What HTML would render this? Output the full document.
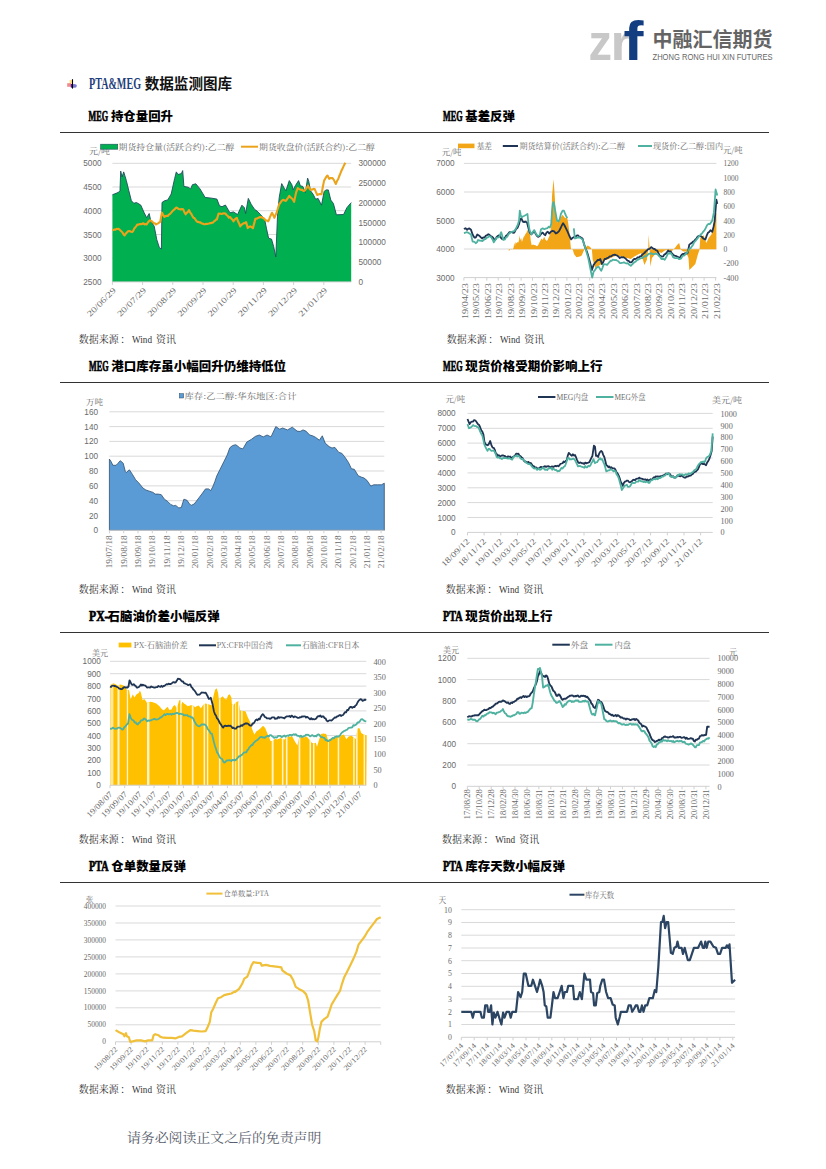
<!DOCTYPE html>
<html><head><meta charset="utf-8"><title>PTA&amp;MEG 数据监测图库</title>
<style>
html,body{margin:0;padding:0;background:#fff;}
body{width:826px;height:1169px;position:relative;overflow:hidden;}
svg{position:absolute;left:0;top:0;}
</style></head><body>
<svg width="826" height="1169" viewBox="0 0 826 1169">
<text x="588.5" y="60" font-size="52" fill="#c8c8c8" font-family="'Liberation Sans','Noto Sans CJK SC',sans-serif" font-weight="bold" textLength="23.5" lengthAdjust="spacingAndGlyphs">z</text>
<text x="610.5" y="60" font-size="52" fill="#c8c8c8" font-family="'Liberation Sans','Noto Sans CJK SC',sans-serif" font-weight="bold" textLength="21" lengthAdjust="spacingAndGlyphs">r</text>
<text x="623.5" y="60" font-size="55" fill="#123d80" font-family="'Liberation Sans','Noto Sans CJK SC',sans-serif" font-weight="bold" textLength="20" lengthAdjust="spacingAndGlyphs">f</text>
<text x="652.5" y="47.0" font-size="20.00" fill="#646464" font-family="'Noto Sans CJK SC',sans-serif" text-anchor="start" font-weight="bold" textLength="120.0" lengthAdjust="spacingAndGlyphs">中融汇信期货</text>
<text x="652.5" y="59.6" font-size="8.60" fill="#666666" font-family="'Liberation Sans','Noto Sans CJK SC',sans-serif" text-anchor="start" font-weight="normal" textLength="120.0" lengthAdjust="spacingAndGlyphs">ZHONG RONG HUI XIN FUTURES</text>
<rect x="69.6" y="80" width="2.4" height="3.6" fill="#ffd860" opacity="0.8"/>
<rect x="67.2" y="83.2" width="3.8" height="3.6" fill="#f08a8a"/>
<ellipse cx="74" cy="85.9" rx="2.8" ry="1.9" fill="#7a78d8"/>
<rect x="70.8" y="84" width="1.8" height="3.6" fill="#4a1a90"/>
<line x1="72.5" y1="79.2" x2="72.5" y2="88.6" stroke="#000" stroke-width="1.1"/>
<text x="89.0" y="88.6" font-size="15.80" fill="#1f3f7c" font-family="'Liberation Serif','Noto Serif CJK SC',serif" text-anchor="start" font-weight="bold" textLength="52.0" lengthAdjust="spacingAndGlyphs">PTA&amp;MEG</text>
<text x="144.7" y="88.8" font-size="14.50" fill="#111" font-family="'Noto Sans CJK SC',sans-serif" text-anchor="start" font-weight="bold" textLength="87.5" lengthAdjust="spacingAndGlyphs">数据监测图库</text>
<text x="88.6" y="120.9" font-size="14.50" fill="#000" font-family="'Liberation Serif','Noto Serif CJK SC',serif" text-anchor="start" font-weight="bold" textLength="19.5" lengthAdjust="spacingAndGlyphs" stroke="#000" stroke-width="0.7">MEG</text>
<text x="110.9" y="121.3" font-size="12.50" fill="#000" font-family="'Noto Sans CJK SC',sans-serif" text-anchor="start" font-weight="900" textLength="62.1" lengthAdjust="spacingAndGlyphs">持仓量回升</text>
<text x="443.0" y="120.9" font-size="14.50" fill="#000" font-family="'Liberation Serif','Noto Serif CJK SC',serif" text-anchor="start" font-weight="bold" textLength="19.5" lengthAdjust="spacingAndGlyphs" stroke="#000" stroke-width="0.7">MEG</text>
<text x="465.3" y="121.3" font-size="12.50" fill="#000" font-family="'Noto Sans CJK SC',sans-serif" text-anchor="start" font-weight="900" textLength="49.6" lengthAdjust="spacingAndGlyphs">基差反弹</text>
<text x="89.0" y="370.9" font-size="14.50" fill="#000" font-family="'Liberation Serif','Noto Serif CJK SC',serif" text-anchor="start" font-weight="bold" textLength="19.5" lengthAdjust="spacingAndGlyphs" stroke="#000" stroke-width="0.7">MEG</text>
<text x="111.3" y="371.3" font-size="12.50" fill="#000" font-family="'Noto Sans CJK SC',sans-serif" text-anchor="start" font-weight="900" textLength="174.8" lengthAdjust="spacingAndGlyphs">港口库存虽小幅回升仍维持低位</text>
<text x="443.0" y="370.9" font-size="14.50" fill="#000" font-family="'Liberation Serif','Noto Serif CJK SC',serif" text-anchor="start" font-weight="bold" textLength="19.5" lengthAdjust="spacingAndGlyphs" stroke="#000" stroke-width="0.7">MEG</text>
<text x="465.3" y="371.3" font-size="12.50" fill="#000" font-family="'Noto Sans CJK SC',sans-serif" text-anchor="start" font-weight="900" textLength="137.2" lengthAdjust="spacingAndGlyphs">现货价格受期价影响上行</text>
<text x="89.0" y="620.9" font-size="14.50" fill="#000" font-family="'Liberation Serif','Noto Serif CJK SC',serif" text-anchor="start" font-weight="bold" textLength="19.5" lengthAdjust="spacingAndGlyphs" stroke="#000" stroke-width="0.7">PX-</text>
<text x="107.6" y="621.3" font-size="12.50" fill="#000" font-family="'Noto Sans CJK SC',sans-serif" text-anchor="start" font-weight="900" textLength="112.2" lengthAdjust="spacingAndGlyphs">石脑油价差小幅反弹</text>
<text x="443.0" y="620.9" font-size="14.50" fill="#000" font-family="'Liberation Serif','Noto Serif CJK SC',serif" text-anchor="start" font-weight="bold" textLength="19.5" lengthAdjust="spacingAndGlyphs" stroke="#000" stroke-width="0.7">PTA</text>
<text x="465.3" y="621.3" font-size="12.50" fill="#000" font-family="'Noto Sans CJK SC',sans-serif" text-anchor="start" font-weight="900" textLength="87.1" lengthAdjust="spacingAndGlyphs">现货价出现上行</text>
<text x="89.0" y="870.9" font-size="14.50" fill="#000" font-family="'Liberation Serif','Noto Serif CJK SC',serif" text-anchor="start" font-weight="bold" textLength="19.5" lengthAdjust="spacingAndGlyphs" stroke="#000" stroke-width="0.7">PTA</text>
<text x="111.3" y="871.3" font-size="12.50" fill="#000" font-family="'Noto Sans CJK SC',sans-serif" text-anchor="start" font-weight="900" textLength="74.6" lengthAdjust="spacingAndGlyphs">仓单数量反弹</text>
<text x="443.0" y="870.9" font-size="14.50" fill="#000" font-family="'Liberation Serif','Noto Serif CJK SC',serif" text-anchor="start" font-weight="bold" textLength="19.5" lengthAdjust="spacingAndGlyphs" stroke="#000" stroke-width="0.7">PTA</text>
<text x="465.3" y="871.3" font-size="12.50" fill="#000" font-family="'Noto Sans CJK SC',sans-serif" text-anchor="start" font-weight="900" textLength="99.7" lengthAdjust="spacingAndGlyphs">库存天数小幅反弹</text>
<line x1="60" y1="132.5" x2="769" y2="132.5" stroke="#333" stroke-width="1.2"/>
<line x1="60" y1="382.5" x2="769" y2="382.5" stroke="#333" stroke-width="1.2"/>
<line x1="60" y1="632.5" x2="769" y2="632.5" stroke="#333" stroke-width="1.2"/>
<line x1="60" y1="882.5" x2="769" y2="882.5" stroke="#333" stroke-width="1.2"/>
<text x="78.7" y="342.8" font-size="10.00" fill="#333" font-family="'Noto Serif CJK SC','Liberation Serif',serif" text-anchor="start" font-weight="normal" textLength="40.0" lengthAdjust="spacingAndGlyphs">数据来源</text>
<text x="120.2" y="342.8" font-size="10.00" fill="#333" font-family="'Noto Serif CJK SC','Liberation Serif',serif" text-anchor="start" font-weight="normal">：</text>
<text x="132.0" y="342.8" font-size="10.50" fill="#333" font-family="'Liberation Serif','Noto Serif CJK SC',serif" text-anchor="start" font-weight="normal" textLength="20.0" lengthAdjust="spacingAndGlyphs">Wind</text>
<text x="156.1" y="342.8" font-size="10.00" fill="#333" font-family="'Noto Serif CJK SC','Liberation Serif',serif" text-anchor="start" font-weight="normal" textLength="20.0" lengthAdjust="spacingAndGlyphs">资讯</text>
<text x="446.8" y="342.8" font-size="10.00" fill="#333" font-family="'Noto Serif CJK SC','Liberation Serif',serif" text-anchor="start" font-weight="normal" textLength="40.0" lengthAdjust="spacingAndGlyphs">数据来源</text>
<text x="488.3" y="342.8" font-size="10.00" fill="#333" font-family="'Noto Serif CJK SC','Liberation Serif',serif" text-anchor="start" font-weight="normal">：</text>
<text x="500.1" y="342.8" font-size="10.50" fill="#333" font-family="'Liberation Serif','Noto Serif CJK SC',serif" text-anchor="start" font-weight="normal" textLength="20.0" lengthAdjust="spacingAndGlyphs">Wind</text>
<text x="524.2" y="342.8" font-size="10.00" fill="#333" font-family="'Noto Serif CJK SC','Liberation Serif',serif" text-anchor="start" font-weight="normal" textLength="20.0" lengthAdjust="spacingAndGlyphs">资讯</text>
<text x="78.7" y="592.6" font-size="10.00" fill="#333" font-family="'Noto Serif CJK SC','Liberation Serif',serif" text-anchor="start" font-weight="normal" textLength="40.0" lengthAdjust="spacingAndGlyphs">数据来源</text>
<text x="120.2" y="592.6" font-size="10.00" fill="#333" font-family="'Noto Serif CJK SC','Liberation Serif',serif" text-anchor="start" font-weight="normal">：</text>
<text x="132.0" y="592.6" font-size="10.50" fill="#333" font-family="'Liberation Serif','Noto Serif CJK SC',serif" text-anchor="start" font-weight="normal" textLength="20.0" lengthAdjust="spacingAndGlyphs">Wind</text>
<text x="156.1" y="592.6" font-size="10.00" fill="#333" font-family="'Noto Serif CJK SC','Liberation Serif',serif" text-anchor="start" font-weight="normal" textLength="20.0" lengthAdjust="spacingAndGlyphs">资讯</text>
<text x="445.8" y="592.6" font-size="10.00" fill="#333" font-family="'Noto Serif CJK SC','Liberation Serif',serif" text-anchor="start" font-weight="normal" textLength="40.0" lengthAdjust="spacingAndGlyphs">数据来源</text>
<text x="487.3" y="592.6" font-size="10.00" fill="#333" font-family="'Noto Serif CJK SC','Liberation Serif',serif" text-anchor="start" font-weight="normal">：</text>
<text x="499.1" y="592.6" font-size="10.50" fill="#333" font-family="'Liberation Serif','Noto Serif CJK SC',serif" text-anchor="start" font-weight="normal" textLength="20.0" lengthAdjust="spacingAndGlyphs">Wind</text>
<text x="523.2" y="592.6" font-size="10.00" fill="#333" font-family="'Noto Serif CJK SC','Liberation Serif',serif" text-anchor="start" font-weight="normal" textLength="20.0" lengthAdjust="spacingAndGlyphs">资讯</text>
<text x="78.7" y="842.6" font-size="10.00" fill="#333" font-family="'Noto Serif CJK SC','Liberation Serif',serif" text-anchor="start" font-weight="normal" textLength="40.0" lengthAdjust="spacingAndGlyphs">数据来源</text>
<text x="120.2" y="842.6" font-size="10.00" fill="#333" font-family="'Noto Serif CJK SC','Liberation Serif',serif" text-anchor="start" font-weight="normal">：</text>
<text x="132.0" y="842.6" font-size="10.50" fill="#333" font-family="'Liberation Serif','Noto Serif CJK SC',serif" text-anchor="start" font-weight="normal" textLength="20.0" lengthAdjust="spacingAndGlyphs">Wind</text>
<text x="156.1" y="842.6" font-size="10.00" fill="#333" font-family="'Noto Serif CJK SC','Liberation Serif',serif" text-anchor="start" font-weight="normal" textLength="20.0" lengthAdjust="spacingAndGlyphs">资讯</text>
<text x="441.9" y="842.6" font-size="10.00" fill="#333" font-family="'Noto Serif CJK SC','Liberation Serif',serif" text-anchor="start" font-weight="normal" textLength="40.0" lengthAdjust="spacingAndGlyphs">数据来源</text>
<text x="483.4" y="842.6" font-size="10.00" fill="#333" font-family="'Noto Serif CJK SC','Liberation Serif',serif" text-anchor="start" font-weight="normal">：</text>
<text x="495.2" y="842.6" font-size="10.50" fill="#333" font-family="'Liberation Serif','Noto Serif CJK SC',serif" text-anchor="start" font-weight="normal" textLength="20.0" lengthAdjust="spacingAndGlyphs">Wind</text>
<text x="519.3" y="842.6" font-size="10.00" fill="#333" font-family="'Noto Serif CJK SC','Liberation Serif',serif" text-anchor="start" font-weight="normal" textLength="20.0" lengthAdjust="spacingAndGlyphs">资讯</text>
<text x="78.7" y="1092.6" font-size="10.00" fill="#333" font-family="'Noto Serif CJK SC','Liberation Serif',serif" text-anchor="start" font-weight="normal" textLength="40.0" lengthAdjust="spacingAndGlyphs">数据来源</text>
<text x="120.2" y="1092.6" font-size="10.00" fill="#333" font-family="'Noto Serif CJK SC','Liberation Serif',serif" text-anchor="start" font-weight="normal">：</text>
<text x="132.0" y="1092.6" font-size="10.50" fill="#333" font-family="'Liberation Serif','Noto Serif CJK SC',serif" text-anchor="start" font-weight="normal" textLength="20.0" lengthAdjust="spacingAndGlyphs">Wind</text>
<text x="156.1" y="1092.6" font-size="10.00" fill="#333" font-family="'Noto Serif CJK SC','Liberation Serif',serif" text-anchor="start" font-weight="normal" textLength="20.0" lengthAdjust="spacingAndGlyphs">资讯</text>
<text x="445.8" y="1092.6" font-size="10.00" fill="#333" font-family="'Noto Serif CJK SC','Liberation Serif',serif" text-anchor="start" font-weight="normal" textLength="40.0" lengthAdjust="spacingAndGlyphs">数据来源</text>
<text x="487.3" y="1092.6" font-size="10.00" fill="#333" font-family="'Noto Serif CJK SC','Liberation Serif',serif" text-anchor="start" font-weight="normal">：</text>
<text x="499.1" y="1092.6" font-size="10.50" fill="#333" font-family="'Liberation Serif','Noto Serif CJK SC',serif" text-anchor="start" font-weight="normal" textLength="20.0" lengthAdjust="spacingAndGlyphs">Wind</text>
<text x="523.2" y="1092.6" font-size="10.00" fill="#333" font-family="'Noto Serif CJK SC','Liberation Serif',serif" text-anchor="start" font-weight="normal" textLength="20.0" lengthAdjust="spacingAndGlyphs">资讯</text>
<text x="126.9" y="1141.8" font-size="12.80" fill="#575d6b" font-family="'Noto Serif CJK SC','Liberation Serif',serif" text-anchor="start" font-weight="normal" textLength="194.5" lengthAdjust="spacingAndGlyphs">请务必阅读正文之后的免责声明</text>
<line x1="112.4" y1="163.3" x2="351.2" y2="163.3" stroke="#d9d9d9" stroke-width="1"/>
<line x1="112.4" y1="187.0" x2="351.2" y2="187.0" stroke="#d9d9d9" stroke-width="1"/>
<line x1="112.4" y1="210.7" x2="351.2" y2="210.7" stroke="#d9d9d9" stroke-width="1"/>
<line x1="112.4" y1="234.5" x2="351.2" y2="234.5" stroke="#d9d9d9" stroke-width="1"/>
<line x1="112.4" y1="258.2" x2="351.2" y2="258.2" stroke="#d9d9d9" stroke-width="1"/>
<polygon points="112.4,281.9 112.4,194.8 118.6,192.3 120.0,190.6 120.7,171.1 122.0,177.0 123.7,171.9 126.3,180.4 128.8,190.6 131.4,200.8 133.9,203.3 136.4,202.5 140.7,205.0 144.1,212.6 146.6,217.7 149.2,213.5 150.8,221.1 154.2,226.2 156.8,239.7 159.3,247.4 161.4,249.1 162.0,202.5 164.4,200.8 167.8,199.9 171.2,194.0 174.6,178.7 176.3,171.9 178.0,174.5 181.4,173.6 182.7,170.6 183.9,186.4 188.1,187.2 190.7,188.9 192.4,184.7 195.8,183.8 200.0,188.9 205.1,197.4 211.9,198.2 216.9,199.1 219.5,205.8 222.0,206.7 225.4,205.0 228.8,210.9 230.0,212.8 233.4,211.9 237.6,214.5 241.9,205.2 244.4,207.7 245.6,213.6 248.3,198.4 251.2,204.3 254.6,209.4 257.1,211.1 260.5,214.5 264.7,219.6 266.4,228.1 268.6,238.2 271.5,239.1 273.7,246.7 275.8,256.9 277.5,216.2 279.2,197.5 281.7,183.6 284.2,188.2 285.9,190.8 289.3,180.6 291.9,184.8 293.1,189.9 295.3,185.7 298.6,180.6 300.3,185.7 302.9,186.5 305.4,192.5 307.6,178.1 308.8,181.4 310.5,190.8 313.1,194.2 315.6,199.2 318.1,198.4 321.5,205.2 324.1,191.6 325.8,189.9 328.3,189.9 330.8,200.1 333.4,203.5 336.4,214.8 343.6,214.5 346.9,207.7 351.2,202.6 351.2,281.9" fill="#00b050"/>
<polyline points="112.4,194.8 118.6,192.3 120.0,190.6 120.7,171.1 122.0,177.0 123.7,171.9 126.3,180.4 128.8,190.6 131.4,200.8 133.9,203.3 136.4,202.5 140.7,205.0 144.1,212.6 146.6,217.7 149.2,213.5 150.8,221.1 154.2,226.2 156.8,239.7 159.3,247.4 161.4,249.1 162.0,202.5 164.4,200.8 167.8,199.9 171.2,194.0 174.6,178.7 176.3,171.9 178.0,174.5 181.4,173.6 182.7,170.6 183.9,186.4 188.1,187.2 190.7,188.9 192.4,184.7 195.8,183.8 200.0,188.9 205.1,197.4 211.9,198.2 216.9,199.1 219.5,205.8 222.0,206.7 225.4,205.0 228.8,210.9 230.0,212.8 233.4,211.9 237.6,214.5 241.9,205.2 244.4,207.7 245.6,213.6 248.3,198.4 251.2,204.3 254.6,209.4 257.1,211.1 260.5,214.5 264.7,219.6 266.4,228.1 268.6,238.2 271.5,239.1 273.7,246.7 275.8,256.9 277.5,216.2 279.2,197.5 281.7,183.6 284.2,188.2 285.9,190.8 289.3,180.6 291.9,184.8 293.1,189.9 295.3,185.7 298.6,180.6 300.3,185.7 302.9,186.5 305.4,192.5 307.6,178.1 308.8,181.4 310.5,190.8 313.1,194.2 315.6,199.2 318.1,198.4 321.5,205.2 324.1,191.6 325.8,189.9 328.3,189.9 330.8,200.1 333.4,203.5 336.4,214.8 343.6,214.5 346.9,207.7 351.2,202.6" fill="none" stroke="#1e4d5c" stroke-width="0.9" stroke-linejoin="round"/>
<line x1="112.4" y1="281.9" x2="351.2" y2="281.9" stroke="#d0d0d0" stroke-width="1"/>
<line x1="112.4" y1="281.9" x2="112.4" y2="284.9" stroke="#d0d0d0" stroke-width="1"/>
<line x1="142.6" y1="281.9" x2="142.6" y2="284.9" stroke="#d0d0d0" stroke-width="1"/>
<line x1="172.8" y1="281.9" x2="172.8" y2="284.9" stroke="#d0d0d0" stroke-width="1"/>
<line x1="203.0" y1="281.9" x2="203.0" y2="284.9" stroke="#d0d0d0" stroke-width="1"/>
<line x1="233.2" y1="281.9" x2="233.2" y2="284.9" stroke="#d0d0d0" stroke-width="1"/>
<line x1="263.4" y1="281.9" x2="263.4" y2="284.9" stroke="#d0d0d0" stroke-width="1"/>
<line x1="293.6" y1="281.9" x2="293.6" y2="284.9" stroke="#d0d0d0" stroke-width="1"/>
<line x1="323.8" y1="281.9" x2="323.8" y2="284.9" stroke="#d0d0d0" stroke-width="1"/>
<polyline points="112.4,230.4 113.4,230.0 114.5,229.5 115.5,229.7 116.6,228.9 117.6,229.0 118.6,228.7 119.9,229.9 121.2,231.3 122.3,232.2 123.4,234.1 124.6,235.5 125.7,233.6 126.8,232.6 128.0,231.3 129.0,231.1 130.1,231.3 131.1,231.8 132.2,232.1 133.2,230.9 134.2,228.7 135.3,227.3 136.3,226.1 137.3,224.5 138.3,224.8 139.3,224.2 140.3,223.9 141.4,224.3 142.4,223.6 143.4,223.4 144.5,224.4 145.6,224.1 146.6,224.5 147.7,222.7 148.9,221.3 150.0,220.3 151.3,220.9 152.5,221.9 153.7,223.1 154.8,223.3 155.9,224.5 157.0,223.9 158.1,223.4 159.1,222.5 160.2,221.9 161.9,212.6 163.1,214.8 164.4,216.9 165.5,216.1 166.7,215.9 167.8,216.0 168.9,214.6 170.1,213.9 171.2,212.6 172.2,211.5 173.2,210.4 174.2,209.7 175.3,208.5 176.3,207.5 177.4,207.9 178.5,209.0 179.7,209.2 180.8,209.4 181.9,209.0 183.1,209.2 184.3,211.9 185.6,214.3 186.7,212.9 187.9,211.9 189.0,210.1 190.1,212.3 191.2,213.8 192.4,216.0 193.4,217.7 194.4,218.0 195.4,219.5 196.4,221.0 197.5,221.9 198.4,221.9 199.4,222.5 200.3,222.3 201.3,223.2 202.2,223.6 203.2,223.7 204.1,224.3 205.1,224.2 206.1,223.8 207.0,224.0 208.0,223.7 209.0,223.5 209.9,223.1 210.9,223.3 211.9,222.8 212.9,222.6 213.9,221.4 214.9,220.9 215.9,219.6 216.9,219.4 218.6,213.5 219.6,213.7 220.6,213.6 221.5,214.0 222.5,213.8 223.5,213.3 224.5,213.4 225.4,213.5 226.6,215.1 227.7,215.8 228.8,217.7 230.0,217.0 231.1,218.4 232.3,219.5 233.4,221.3 234.5,219.8 235.6,218.6 236.8,217.9 237.9,221.0 239.0,223.2 240.2,226.4 241.4,224.8 242.7,223.8 243.8,223.1 245.0,223.1 246.1,222.1 247.8,228.1 249.1,226.8 250.3,226.4 251.6,227.2 252.9,228.1 254.2,223.4 255.4,218.7 256.5,218.7 257.5,218.2 258.6,217.8 259.7,217.0 260.8,217.1 261.9,217.5 263.1,217.9 264.2,218.6 265.3,220.0 266.4,220.4 268.1,221.3 269.1,219.6 270.1,216.7 271.1,214.6 272.0,212.8 273.2,215.1 274.4,217.9 275.5,215.1 276.6,212.8 277.9,208.5 279.2,204.3 280.3,203.0 281.4,201.3 282.5,200.1 283.7,199.9 284.8,200.6 285.9,200.9 287.1,199.1 288.2,197.6 289.3,195.8 290.5,197.4 291.6,198.3 292.7,199.2 294.1,201.8 295.1,197.1 296.1,192.5 297.8,188.2 298.9,188.9 300.1,189.5 301.2,189.9 302.3,189.8 303.4,190.9 304.6,190.8 305.7,189.3 306.8,187.7 308.0,185.7 309.2,188.1 310.5,189.9 311.6,189.6 312.6,189.4 313.7,188.9 314.7,189.1 316.0,192.2 317.3,195.0 318.3,194.4 319.4,194.1 320.5,194.1 321.5,194.2 322.8,187.0 324.1,180.6 325.2,178.7 326.3,176.8 327.5,175.5 329.2,178.9 330.3,178.1 331.4,178.0 332.5,178.1 333.7,179.6 334.8,181.9 335.9,184.0 337.0,181.0 338.1,179.3 339.1,176.5 340.2,173.8 341.2,171.3 342.2,169.2 343.2,167.1 344.2,164.9 345.3,162.8" fill="none" stroke="#eca31c" stroke-width="2.1" stroke-linejoin="round"/>
<text x="101.5" y="166.3" font-size="8.20" fill="#6a6a6a" font-family="'Liberation Sans','Noto Sans CJK SC',sans-serif" text-anchor="end" font-weight="normal">5000</text>
<text x="101.5" y="190.0" font-size="8.20" fill="#6a6a6a" font-family="'Liberation Sans','Noto Sans CJK SC',sans-serif" text-anchor="end" font-weight="normal">4500</text>
<text x="101.5" y="213.7" font-size="8.20" fill="#6a6a6a" font-family="'Liberation Sans','Noto Sans CJK SC',sans-serif" text-anchor="end" font-weight="normal">4000</text>
<text x="101.5" y="237.5" font-size="8.20" fill="#6a6a6a" font-family="'Liberation Sans','Noto Sans CJK SC',sans-serif" text-anchor="end" font-weight="normal">3500</text>
<text x="101.5" y="261.2" font-size="8.20" fill="#6a6a6a" font-family="'Liberation Sans','Noto Sans CJK SC',sans-serif" text-anchor="end" font-weight="normal">3000</text>
<text x="101.5" y="284.9" font-size="8.20" fill="#6a6a6a" font-family="'Liberation Sans','Noto Sans CJK SC',sans-serif" text-anchor="end" font-weight="normal">2500</text>
<text x="358.5" y="166.3" font-size="8.20" fill="#6a6a6a" font-family="'Liberation Sans','Noto Sans CJK SC',sans-serif" text-anchor="start" font-weight="normal">300000</text>
<text x="358.5" y="186.1" font-size="8.20" fill="#6a6a6a" font-family="'Liberation Sans','Noto Sans CJK SC',sans-serif" text-anchor="start" font-weight="normal">250000</text>
<text x="358.5" y="205.8" font-size="8.20" fill="#6a6a6a" font-family="'Liberation Sans','Noto Sans CJK SC',sans-serif" text-anchor="start" font-weight="normal">200000</text>
<text x="358.5" y="225.6" font-size="8.20" fill="#6a6a6a" font-family="'Liberation Sans','Noto Sans CJK SC',sans-serif" text-anchor="start" font-weight="normal">150000</text>
<text x="358.5" y="245.4" font-size="8.20" fill="#6a6a6a" font-family="'Liberation Sans','Noto Sans CJK SC',sans-serif" text-anchor="start" font-weight="normal">100000</text>
<text x="358.5" y="265.1" font-size="8.20" fill="#6a6a6a" font-family="'Liberation Sans','Noto Sans CJK SC',sans-serif" text-anchor="start" font-weight="normal">50000</text>
<text x="358.5" y="284.9" font-size="8.20" fill="#6a6a6a" font-family="'Liberation Sans','Noto Sans CJK SC',sans-serif" text-anchor="start" font-weight="normal">0</text>
<text x="89.0" y="154.3" font-size="8.20" fill="#6a6a6a" font-family="'Noto Serif CJK SC','Liberation Serif',serif" text-anchor="start" font-weight="normal" textLength="21.0" lengthAdjust="spacingAndGlyphs">元/吨</text>
<rect x="100.7" y="144.2" width="17" height="5" fill="#00b050" stroke="#1e4d5c" stroke-width="0.6"/>
<text x="118.5" y="149.5" font-size="8.20" fill="#6a6a6a" font-family="'Noto Serif CJK SC','Liberation Serif',serif" text-anchor="start" font-weight="normal" textLength="116.0" lengthAdjust="spacingAndGlyphs">期货持仓量(活跃合约):乙二醇</text>
<line x1="241" y1="146.7" x2="258" y2="146.7" stroke="#eca31c" stroke-width="2"/>
<text x="259.0" y="149.5" font-size="8.20" fill="#6a6a6a" font-family="'Noto Serif CJK SC','Liberation Serif',serif" text-anchor="start" font-weight="normal" textLength="116.0" lengthAdjust="spacingAndGlyphs">期货收盘价(活跃合约):乙二醇</text>
<text transform="translate(116.4,290.9) rotate(-45)" font-size="8.20" fill="#6a6a6a" font-family="'Liberation Serif','Noto Serif CJK SC',serif" text-anchor="end" textLength="37.0" lengthAdjust="spacingAndGlyphs">20/06/29</text>
<text transform="translate(146.6,290.9) rotate(-45)" font-size="8.20" fill="#6a6a6a" font-family="'Liberation Serif','Noto Serif CJK SC',serif" text-anchor="end" textLength="37.0" lengthAdjust="spacingAndGlyphs">20/07/29</text>
<text transform="translate(176.8,290.9) rotate(-45)" font-size="8.20" fill="#6a6a6a" font-family="'Liberation Serif','Noto Serif CJK SC',serif" text-anchor="end" textLength="37.0" lengthAdjust="spacingAndGlyphs">20/08/29</text>
<text transform="translate(207.0,290.9) rotate(-45)" font-size="8.20" fill="#6a6a6a" font-family="'Liberation Serif','Noto Serif CJK SC',serif" text-anchor="end" textLength="37.0" lengthAdjust="spacingAndGlyphs">20/09/29</text>
<text transform="translate(237.2,290.9) rotate(-45)" font-size="8.20" fill="#6a6a6a" font-family="'Liberation Serif','Noto Serif CJK SC',serif" text-anchor="end" textLength="37.0" lengthAdjust="spacingAndGlyphs">20/10/29</text>
<text transform="translate(267.4,290.9) rotate(-45)" font-size="8.20" fill="#6a6a6a" font-family="'Liberation Serif','Noto Serif CJK SC',serif" text-anchor="end" textLength="37.0" lengthAdjust="spacingAndGlyphs">20/11/29</text>
<text transform="translate(297.6,290.9) rotate(-45)" font-size="8.20" fill="#6a6a6a" font-family="'Liberation Serif','Noto Serif CJK SC',serif" text-anchor="end" textLength="37.0" lengthAdjust="spacingAndGlyphs">20/12/29</text>
<text transform="translate(327.8,290.9) rotate(-45)" font-size="8.20" fill="#6a6a6a" font-family="'Liberation Serif','Noto Serif CJK SC',serif" text-anchor="end" textLength="37.0" lengthAdjust="spacingAndGlyphs">21/01/29</text>
<line x1="463.9" y1="163.4" x2="716.4" y2="163.4" stroke="#d9d9d9" stroke-width="1"/>
<line x1="463.9" y1="192.0" x2="716.4" y2="192.0" stroke="#d9d9d9" stroke-width="1"/>
<line x1="463.9" y1="220.4" x2="716.4" y2="220.4" stroke="#d9d9d9" stroke-width="1"/>
<line x1="463.9" y1="249.0" x2="716.4" y2="249.0" stroke="#d9d9d9" stroke-width="1"/>
<polygon points="508.8,249.3 508.8,251.3 510.1,249.6 511.4,248.7 512.6,249.6 513.5,247.9 514.3,242.8 515.0,246.2 515.6,241.9 516.4,243.6 517.3,241.9 518.1,242.8 519.0,240.3 519.6,235.2 520.3,240.3 521.1,237.7 521.9,241.9 522.8,239.4 523.6,236.9 524.5,236.0 525.3,234.3 526.6,232.6 527.5,230.1 528.3,230.9 529.2,234.3 530.0,233.5 530.8,241.1 531.7,245.3 533.0,244.5 534.2,244.9 535.5,245.3 536.8,246.2 538.1,245.3 538.9,243.6 540.2,241.1 541.0,239.4 541.9,238.6 542.7,240.3 543.6,237.7 544.4,236.9 545.3,239.4 546.1,240.3 546.9,241.1 547.8,239.4 548.6,237.7 549.5,236.0 550.3,232.6 551.2,225.8 552.0,196.2 552.9,186.0 553.5,179.2 554.2,187.7 555.0,200.4 555.8,215.7 556.7,220.8 557.5,222.5 558.8,221.2 560.1,219.1 561.4,216.5 562.6,214.8 563.9,216.5 565.2,218.2 566.0,217.4 567.3,218.2 568.1,222.5 569.0,229.2 569.8,236.0 570.7,246.2 571.1,249.6 572.5,248.7 574.1,254.2 576.5,257.3 579.6,256.6 580.0,256.4 581.7,255.6 583.4,251.4 585.1,248.0 587.6,245.4 590.2,247.1 591.9,249.7 592.7,259.8 595.3,268.3 596.9,266.6 600.3,264.9 603.7,259.8 607.1,259.8 610.5,258.1 613.9,256.4 617.3,255.6 620.7,256.4 624.1,258.1 627.5,258.1 630.8,259.0 634.2,256.4 637.6,254.7 641.0,253.1 644.4,264.9 646.9,259.8 648.3,248.0 648.6,234.4 649.5,246.3 650.3,266.6 652.0,258.1 654.6,254.7 658.0,251.4 661.4,253.1 664.7,250.5 668.1,249.7 671.5,251.4 674.9,248.0 677.5,244.6 679.2,242.9 680.8,249.7 683.4,251.4 685.9,251.4 688.5,258.1 689.3,270.0 691.9,267.5 695.3,264.1 697.8,254.7 699.5,249.7 700.3,237.8 703.7,235.3 706.3,242.9 708.8,237.8 711.4,234.4 713.9,225.9 715.6,214.1 716.4,213.2 716.4,249.3" fill="#f2a516"/>
<line x1="463.9" y1="277.6" x2="716.4" y2="277.6" stroke="#d0d0d0" stroke-width="1"/>
<line x1="463.9" y1="277.6" x2="463.9" y2="280.6" stroke="#d0d0d0" stroke-width="1"/>
<line x1="475.3" y1="277.6" x2="475.3" y2="280.6" stroke="#d0d0d0" stroke-width="1"/>
<line x1="486.8" y1="277.6" x2="486.8" y2="280.6" stroke="#d0d0d0" stroke-width="1"/>
<line x1="498.2" y1="277.6" x2="498.2" y2="280.6" stroke="#d0d0d0" stroke-width="1"/>
<line x1="509.7" y1="277.6" x2="509.7" y2="280.6" stroke="#d0d0d0" stroke-width="1"/>
<line x1="521.1" y1="277.6" x2="521.1" y2="280.6" stroke="#d0d0d0" stroke-width="1"/>
<line x1="532.5" y1="277.6" x2="532.5" y2="280.6" stroke="#d0d0d0" stroke-width="1"/>
<line x1="544.0" y1="277.6" x2="544.0" y2="280.6" stroke="#d0d0d0" stroke-width="1"/>
<line x1="555.4" y1="277.6" x2="555.4" y2="280.6" stroke="#d0d0d0" stroke-width="1"/>
<line x1="566.9" y1="277.6" x2="566.9" y2="280.6" stroke="#d0d0d0" stroke-width="1"/>
<line x1="578.3" y1="277.6" x2="578.3" y2="280.6" stroke="#d0d0d0" stroke-width="1"/>
<line x1="589.7" y1="277.6" x2="589.7" y2="280.6" stroke="#d0d0d0" stroke-width="1"/>
<line x1="601.2" y1="277.6" x2="601.2" y2="280.6" stroke="#d0d0d0" stroke-width="1"/>
<line x1="612.6" y1="277.6" x2="612.6" y2="280.6" stroke="#d0d0d0" stroke-width="1"/>
<line x1="624.1" y1="277.6" x2="624.1" y2="280.6" stroke="#d0d0d0" stroke-width="1"/>
<line x1="635.5" y1="277.6" x2="635.5" y2="280.6" stroke="#d0d0d0" stroke-width="1"/>
<line x1="646.9" y1="277.6" x2="646.9" y2="280.6" stroke="#d0d0d0" stroke-width="1"/>
<line x1="658.4" y1="277.6" x2="658.4" y2="280.6" stroke="#d0d0d0" stroke-width="1"/>
<line x1="669.8" y1="277.6" x2="669.8" y2="280.6" stroke="#d0d0d0" stroke-width="1"/>
<line x1="681.3" y1="277.6" x2="681.3" y2="280.6" stroke="#d0d0d0" stroke-width="1"/>
<line x1="692.7" y1="277.6" x2="692.7" y2="280.6" stroke="#d0d0d0" stroke-width="1"/>
<line x1="704.1" y1="277.6" x2="704.1" y2="280.6" stroke="#d0d0d0" stroke-width="1"/>
<line x1="715.6" y1="277.6" x2="715.6" y2="280.6" stroke="#d0d0d0" stroke-width="1"/>
<polyline points="463.9,229.0 465.5,228.2 467.1,229.8 468.3,228.6 469.4,228.5 471.0,229.8 472.2,233.4 473.4,236.1 474.6,237.6 475.7,237.7 477.3,234.5 478.5,235.3 479.7,236.1 480.9,237.3 482.0,238.5 483.2,237.5 484.4,237.7 485.6,235.9 486.8,235.3 488.3,234.2 489.5,234.9 490.7,236.1 491.9,236.6 493.1,237.7 494.6,240.0 495.7,239.2 496.7,236.9 497.8,236.1 499.0,235.4 500.1,236.1 501.3,238.3 502.5,239.2 503.7,238.5 505.0,237.7 506.1,235.8 507.3,234.9 508.4,233.5 509.5,232.2 510.6,232.4 511.8,231.8 513.1,232.9 514.3,232.6 516.0,229.2 517.7,227.5 519.0,224.2 520.3,219.1 521.5,218.6 522.8,221.6 524.1,222.1 525.3,221.6 527.0,222.5 528.3,227.5 529.6,232.6 531.3,234.3 533.0,232.6 534.2,230.9 535.9,234.3 537.0,235.9 538.1,236.9 539.7,236.0 541.4,233.5 542.7,232.6 544.0,234.3 545.3,235.2 546.5,232.6 547.8,231.8 549.1,233.5 550.8,231.8 552.5,230.9 554.2,231.4 555.8,233.5 557.5,232.6 559.2,230.9 560.9,227.5 562.0,225.1 563.1,223.3 564.3,225.0 566.0,228.4 567.7,231.8 569.4,236.0 571.1,239.4 572.8,237.7 574.1,236.9 574.9,236.9 575.9,236.2 577.0,235.4 578.0,235.3 579.0,236.5 580.0,236.9 581.3,237.8 582.5,238.6 584.2,244.6 585.5,248.4 586.8,251.4 588.1,255.4 589.3,259.8 590.6,264.5 591.9,270.0 593.6,264.9 595.3,262.4 596.5,261.5 597.8,259.8 599.1,260.1 600.3,259.0 602.0,264.1 603.3,262.0 604.6,259.0 605.8,259.0 607.1,258.1 608.4,257.7 609.7,256.4 610.9,256.4 612.2,255.6 613.5,254.8 614.7,254.7 616.0,255.2 617.3,255.6 618.6,256.7 619.8,258.1 621.1,257.1 622.4,257.3 623.6,257.1 624.9,258.1 626.2,259.1 627.5,260.7 628.6,260.9 629.7,262.1 630.8,262.4 632.0,261.9 633.1,260.0 634.2,259.0 635.4,259.0 636.5,258.5 637.6,257.3 638.8,257.6 639.9,256.5 641.0,256.4 642.1,254.9 643.3,253.8 644.4,253.1 645.7,251.4 646.9,250.5 648.2,249.2 649.5,248.8 651.2,247.1 652.3,247.9 653.4,248.8 654.6,248.8 655.8,250.1 657.1,250.5 658.4,253.0 659.7,255.6 660.8,256.1 661.9,256.6 663.1,256.4 664.3,254.6 665.6,253.9 666.9,252.4 668.1,250.5 669.4,251.5 670.7,251.4 671.9,253.4 673.2,254.7 674.4,255.7 675.5,255.8 676.6,256.4 677.9,256.8 679.2,258.1 680.4,256.8 681.7,254.7 682.8,253.9 684.0,254.0 685.1,253.1 686.4,253.7 687.6,253.1 689.3,244.6 690.6,243.6 691.9,242.9 693.0,241.6 694.1,241.2 695.3,239.5 696.4,238.7 697.5,236.8 698.6,236.1 699.8,235.9 700.9,236.2 702.0,236.9 703.2,238.4 704.3,239.1 705.4,239.5 706.7,235.6 708.0,232.7 709.2,231.9 710.5,230.2 712.2,231.9 713.5,227.0 714.7,220.8 716.4,199.7 717.3,203.9" fill="none" stroke="#1f3553" stroke-width="1.8" stroke-linejoin="round"/>
<polyline points="463.9,233.0 465.1,232.8 466.3,232.2 467.5,232.4 468.7,233.0 469.8,233.8 471.0,234.5 472.6,241.6 473.6,241.6 474.7,242.0 475.7,243.2 476.9,242.3 478.1,240.0 479.1,240.5 480.2,240.6 481.2,240.8 482.4,241.0 483.6,240.0 484.7,239.2 485.7,239.0 486.8,237.7 487.9,237.3 489.1,236.1 490.3,236.5 491.5,237.7 492.7,239.7 493.8,242.4 494.9,240.5 495.9,238.9 497.0,237.7 498.2,237.4 499.3,236.9 500.3,234.2 501.2,232.2 502.3,236.0 503.3,240.0 505.0,239.4 506.1,237.2 507.3,236.6 508.4,234.3 509.5,233.3 510.6,232.6 511.8,231.8 513.1,231.5 514.3,230.9 516.0,228.4 517.7,225.0 519.0,220.8 519.8,210.6 520.7,214.8 521.5,217.4 522.8,216.5 524.5,215.7 526.2,214.8 527.5,214.0 528.3,222.5 529.6,230.1 531.3,234.3 533.0,231.8 534.2,230.1 535.9,233.5 537.0,235.3 538.1,236.0 539.7,235.2 541.0,229.2 542.7,228.4 544.4,229.2 545.5,228.7 546.5,228.4 547.6,228.1 548.6,226.7 549.9,227.5 551.2,224.2 552.0,211.4 552.9,203.0 553.7,202.1 554.6,207.2 555.8,214.0 557.1,220.8 558.4,221.6 559.7,219.1 560.9,214.0 562.6,210.6 563.9,210.6 565.2,214.0 566.2,216.1 567.3,218.2" fill="none" stroke="#4fb2a0" stroke-width="1.8" stroke-linejoin="round"/>
<polyline points="573.8,228.4 574.9,238.5 576.1,238.1 577.3,237.7 578.2,237.7 579.1,237.1 580.0,237.8 581.3,238.6 582.5,239.5 584.2,244.6 585.5,248.4 586.8,253.1 588.1,257.4 589.3,263.2 591.0,271.7 592.2,277.6 593.6,271.7 594.8,270.4 596.1,268.3 597.4,267.0 598.6,266.6 599.9,268.7 601.2,270.8 602.5,267.8 603.7,264.1 604.9,264.4 606.0,264.4 607.1,264.9 608.2,263.5 609.4,262.2 610.5,260.7 611.6,260.8 612.8,259.6 613.9,259.8 615.0,260.2 616.2,260.0 617.3,260.7 618.4,261.2 619.5,262.8 620.7,263.2 621.8,262.9 622.9,262.7 624.1,262.4 625.2,263.0 626.3,263.5 627.5,263.2 628.6,264.0 629.7,265.1 630.8,265.8 632.0,264.6 633.1,263.5 634.2,262.4 635.4,261.8 636.5,260.6 637.6,259.8 638.8,259.3 639.9,258.7 641.0,258.1 642.1,258.2 643.3,257.3 644.4,256.4 645.5,256.4 646.7,255.9 647.8,254.7 648.9,253.8 650.1,253.7 651.2,253.1 652.3,254.0 653.4,254.1 654.6,253.9 655.7,253.7 656.8,253.9 658.0,254.7 659.1,256.1 660.2,257.0 661.4,259.0 662.5,258.9 663.6,259.0 664.7,259.8 665.9,257.8 667.0,255.7 668.1,253.1 669.4,253.6 670.7,253.1 671.9,254.7 673.2,257.3 674.4,257.9 675.5,258.1 676.6,258.1 677.7,257.9 678.9,259.2 680.0,259.0 681.1,258.5 682.3,256.3 683.4,255.6 684.5,255.4 685.6,253.8 686.8,253.1 688.1,250.9 689.3,248.8 690.6,248.2 691.9,246.3 693.0,245.0 694.1,242.4 695.3,241.2 696.4,239.7 697.5,238.4 698.6,236.9 699.8,235.6 700.9,234.3 702.0,233.6 703.3,231.6 704.6,230.2 705.8,227.9 707.1,225.1 708.4,224.0 709.7,224.2 710.9,222.6 712.2,220.8 713.9,212.4 715.6,189.5 717.3,195.4" fill="none" stroke="#4fb2a0" stroke-width="1.8" stroke-linejoin="round"/>
<text x="454.5" y="166.4" font-size="8.20" fill="#6a6a6a" font-family="'Liberation Sans','Noto Sans CJK SC',sans-serif" text-anchor="end" font-weight="normal">7000</text>
<text x="454.5" y="195.0" font-size="8.20" fill="#6a6a6a" font-family="'Liberation Sans','Noto Sans CJK SC',sans-serif" text-anchor="end" font-weight="normal">6000</text>
<text x="454.5" y="223.5" font-size="8.20" fill="#6a6a6a" font-family="'Liberation Sans','Noto Sans CJK SC',sans-serif" text-anchor="end" font-weight="normal">5000</text>
<text x="454.5" y="252.1" font-size="8.20" fill="#6a6a6a" font-family="'Liberation Sans','Noto Sans CJK SC',sans-serif" text-anchor="end" font-weight="normal">4000</text>
<text x="454.5" y="280.6" font-size="8.20" fill="#6a6a6a" font-family="'Liberation Sans','Noto Sans CJK SC',sans-serif" text-anchor="end" font-weight="normal">3000</text>
<text x="723.5" y="166.4" font-size="8.20" fill="#6a6a6a" font-family="'Liberation Serif','Noto Serif CJK SC',serif" text-anchor="start" font-weight="normal" textLength="15.0" lengthAdjust="spacingAndGlyphs">1200</text>
<text x="723.5" y="180.7" font-size="8.20" fill="#6a6a6a" font-family="'Liberation Serif','Noto Serif CJK SC',serif" text-anchor="start" font-weight="normal" textLength="15.0" lengthAdjust="spacingAndGlyphs">1000</text>
<text x="723.5" y="194.9" font-size="8.20" fill="#6a6a6a" font-family="'Liberation Serif','Noto Serif CJK SC',serif" text-anchor="start" font-weight="normal" textLength="11.3" lengthAdjust="spacingAndGlyphs">800</text>
<text x="723.5" y="209.2" font-size="8.20" fill="#6a6a6a" font-family="'Liberation Serif','Noto Serif CJK SC',serif" text-anchor="start" font-weight="normal" textLength="11.3" lengthAdjust="spacingAndGlyphs">600</text>
<text x="723.5" y="223.5" font-size="8.20" fill="#6a6a6a" font-family="'Liberation Serif','Noto Serif CJK SC',serif" text-anchor="start" font-weight="normal" textLength="11.3" lengthAdjust="spacingAndGlyphs">400</text>
<text x="723.5" y="237.8" font-size="8.20" fill="#6a6a6a" font-family="'Liberation Serif','Noto Serif CJK SC',serif" text-anchor="start" font-weight="normal" textLength="11.3" lengthAdjust="spacingAndGlyphs">200</text>
<text x="723.5" y="252.0" font-size="8.20" fill="#6a6a6a" font-family="'Liberation Serif','Noto Serif CJK SC',serif" text-anchor="start" font-weight="normal" textLength="3.8" lengthAdjust="spacingAndGlyphs">0</text>
<text x="723.5" y="266.3" font-size="8.20" fill="#6a6a6a" font-family="'Liberation Serif','Noto Serif CJK SC',serif" text-anchor="start" font-weight="normal">-200</text>
<text x="723.5" y="280.6" font-size="8.20" fill="#6a6a6a" font-family="'Liberation Serif','Noto Serif CJK SC',serif" text-anchor="start" font-weight="normal">-400</text>
<text x="441.8" y="154.5" font-size="8.20" fill="#6a6a6a" font-family="'Noto Serif CJK SC','Liberation Serif',serif" text-anchor="start" font-weight="normal" textLength="19.6" lengthAdjust="spacingAndGlyphs">元/吨</text>
<text x="723.0" y="152.5" font-size="8.20" fill="#6a6a6a" font-family="'Noto Serif CJK SC','Liberation Serif',serif" text-anchor="start" font-weight="normal" textLength="19.6" lengthAdjust="spacingAndGlyphs">元/吨</text>
<rect x="458" y="143.6" width="16.5" height="4.6" fill="#f2a516"/>
<text x="476.7" y="149.2" font-size="8.20" fill="#6a6a6a" font-family="'Noto Serif CJK SC','Liberation Serif',serif" text-anchor="start" font-weight="normal" textLength="15.3" lengthAdjust="spacingAndGlyphs">基差</text>
<line x1="502.8" y1="146" x2="518" y2="146" stroke="#1f3553" stroke-width="2"/>
<text x="519.4" y="149.2" font-size="8.20" fill="#6a6a6a" font-family="'Noto Serif CJK SC','Liberation Serif',serif" text-anchor="start" font-weight="normal" textLength="105.6" lengthAdjust="spacingAndGlyphs">期货结算价(活跃合约):乙二醇</text>
<line x1="638" y1="146" x2="652" y2="146" stroke="#4fb2a0" stroke-width="2"/>
<text x="653.0" y="149.2" font-size="8.20" fill="#6a6a6a" font-family="'Noto Serif CJK SC','Liberation Serif',serif" text-anchor="start" font-weight="normal" textLength="70.0" lengthAdjust="spacingAndGlyphs">现货价:乙二醇:国内</text>
<text transform="translate(467.9,283.1) rotate(-90)" font-size="8.20" fill="#6a6a6a" font-family="'Liberation Serif','Noto Serif CJK SC',serif" text-anchor="end" textLength="36.0" lengthAdjust="spacingAndGlyphs">19/04/23</text>
<text transform="translate(479.3,283.1) rotate(-90)" font-size="8.20" fill="#6a6a6a" font-family="'Liberation Serif','Noto Serif CJK SC',serif" text-anchor="end" textLength="36.0" lengthAdjust="spacingAndGlyphs">19/05/23</text>
<text transform="translate(490.8,283.1) rotate(-90)" font-size="8.20" fill="#6a6a6a" font-family="'Liberation Serif','Noto Serif CJK SC',serif" text-anchor="end" textLength="36.0" lengthAdjust="spacingAndGlyphs">19/06/23</text>
<text transform="translate(502.2,283.1) rotate(-90)" font-size="8.20" fill="#6a6a6a" font-family="'Liberation Serif','Noto Serif CJK SC',serif" text-anchor="end" textLength="36.0" lengthAdjust="spacingAndGlyphs">19/07/23</text>
<text transform="translate(513.7,283.1) rotate(-90)" font-size="8.20" fill="#6a6a6a" font-family="'Liberation Serif','Noto Serif CJK SC',serif" text-anchor="end" textLength="36.0" lengthAdjust="spacingAndGlyphs">19/08/23</text>
<text transform="translate(525.1,283.1) rotate(-90)" font-size="8.20" fill="#6a6a6a" font-family="'Liberation Serif','Noto Serif CJK SC',serif" text-anchor="end" textLength="36.0" lengthAdjust="spacingAndGlyphs">19/09/23</text>
<text transform="translate(536.5,283.1) rotate(-90)" font-size="8.20" fill="#6a6a6a" font-family="'Liberation Serif','Noto Serif CJK SC',serif" text-anchor="end" textLength="36.0" lengthAdjust="spacingAndGlyphs">19/10/23</text>
<text transform="translate(548.0,283.1) rotate(-90)" font-size="8.20" fill="#6a6a6a" font-family="'Liberation Serif','Noto Serif CJK SC',serif" text-anchor="end" textLength="36.0" lengthAdjust="spacingAndGlyphs">19/11/23</text>
<text transform="translate(559.4,283.1) rotate(-90)" font-size="8.20" fill="#6a6a6a" font-family="'Liberation Serif','Noto Serif CJK SC',serif" text-anchor="end" textLength="36.0" lengthAdjust="spacingAndGlyphs">19/12/23</text>
<text transform="translate(570.9,283.1) rotate(-90)" font-size="8.20" fill="#6a6a6a" font-family="'Liberation Serif','Noto Serif CJK SC',serif" text-anchor="end" textLength="36.0" lengthAdjust="spacingAndGlyphs">20/01/23</text>
<text transform="translate(582.3,283.1) rotate(-90)" font-size="8.20" fill="#6a6a6a" font-family="'Liberation Serif','Noto Serif CJK SC',serif" text-anchor="end" textLength="36.0" lengthAdjust="spacingAndGlyphs">20/02/23</text>
<text transform="translate(593.7,283.1) rotate(-90)" font-size="8.20" fill="#6a6a6a" font-family="'Liberation Serif','Noto Serif CJK SC',serif" text-anchor="end" textLength="36.0" lengthAdjust="spacingAndGlyphs">20/03/23</text>
<text transform="translate(605.2,283.1) rotate(-90)" font-size="8.20" fill="#6a6a6a" font-family="'Liberation Serif','Noto Serif CJK SC',serif" text-anchor="end" textLength="36.0" lengthAdjust="spacingAndGlyphs">20/04/23</text>
<text transform="translate(616.6,283.1) rotate(-90)" font-size="8.20" fill="#6a6a6a" font-family="'Liberation Serif','Noto Serif CJK SC',serif" text-anchor="end" textLength="36.0" lengthAdjust="spacingAndGlyphs">20/05/23</text>
<text transform="translate(628.1,283.1) rotate(-90)" font-size="8.20" fill="#6a6a6a" font-family="'Liberation Serif','Noto Serif CJK SC',serif" text-anchor="end" textLength="36.0" lengthAdjust="spacingAndGlyphs">20/06/23</text>
<text transform="translate(639.5,283.1) rotate(-90)" font-size="8.20" fill="#6a6a6a" font-family="'Liberation Serif','Noto Serif CJK SC',serif" text-anchor="end" textLength="36.0" lengthAdjust="spacingAndGlyphs">20/07/23</text>
<text transform="translate(650.9,283.1) rotate(-90)" font-size="8.20" fill="#6a6a6a" font-family="'Liberation Serif','Noto Serif CJK SC',serif" text-anchor="end" textLength="36.0" lengthAdjust="spacingAndGlyphs">20/08/23</text>
<text transform="translate(662.4,283.1) rotate(-90)" font-size="8.20" fill="#6a6a6a" font-family="'Liberation Serif','Noto Serif CJK SC',serif" text-anchor="end" textLength="36.0" lengthAdjust="spacingAndGlyphs">20/09/23</text>
<text transform="translate(673.8,283.1) rotate(-90)" font-size="8.20" fill="#6a6a6a" font-family="'Liberation Serif','Noto Serif CJK SC',serif" text-anchor="end" textLength="36.0" lengthAdjust="spacingAndGlyphs">20/10/23</text>
<text transform="translate(685.3,283.1) rotate(-90)" font-size="8.20" fill="#6a6a6a" font-family="'Liberation Serif','Noto Serif CJK SC',serif" text-anchor="end" textLength="36.0" lengthAdjust="spacingAndGlyphs">20/11/23</text>
<text transform="translate(696.7,283.1) rotate(-90)" font-size="8.20" fill="#6a6a6a" font-family="'Liberation Serif','Noto Serif CJK SC',serif" text-anchor="end" textLength="36.0" lengthAdjust="spacingAndGlyphs">20/12/23</text>
<text transform="translate(708.1,283.1) rotate(-90)" font-size="8.20" fill="#6a6a6a" font-family="'Liberation Serif','Noto Serif CJK SC',serif" text-anchor="end" textLength="36.0" lengthAdjust="spacingAndGlyphs">21/01/23</text>
<text transform="translate(719.6,283.1) rotate(-90)" font-size="8.20" fill="#6a6a6a" font-family="'Liberation Serif','Noto Serif CJK SC',serif" text-anchor="end" textLength="36.0" lengthAdjust="spacingAndGlyphs">21/02/23</text>
<line x1="109.4" y1="411.8" x2="384.3" y2="411.8" stroke="#d9d9d9" stroke-width="1"/>
<line x1="109.4" y1="426.6" x2="384.3" y2="426.6" stroke="#d9d9d9" stroke-width="1"/>
<line x1="109.4" y1="441.4" x2="384.3" y2="441.4" stroke="#d9d9d9" stroke-width="1"/>
<line x1="109.4" y1="456.2" x2="384.3" y2="456.2" stroke="#d9d9d9" stroke-width="1"/>
<line x1="109.4" y1="471.0" x2="384.3" y2="471.0" stroke="#d9d9d9" stroke-width="1"/>
<line x1="109.4" y1="485.9" x2="384.3" y2="485.9" stroke="#d9d9d9" stroke-width="1"/>
<line x1="109.4" y1="500.7" x2="384.3" y2="500.7" stroke="#d9d9d9" stroke-width="1"/>
<line x1="109.4" y1="515.5" x2="384.3" y2="515.5" stroke="#d9d9d9" stroke-width="1"/>
<polygon points="109.4,530.3 109.4,459.1 110.9,461.2 112.9,465.3 116.0,465.3 118.1,463.2 120.1,460.7 122.2,462.2 123.2,463.2 125.3,471.4 126.3,472.5 129.4,469.8 132.5,474.5 135.6,479.7 138.7,482.8 142.8,487.9 145.9,490.0 150.0,491.4 153.1,492.4 155.1,494.1 158.2,494.1 161.3,494.7 164.4,499.2 167.5,501.3 170.6,504.4 173.6,505.8 175.7,505.4 178.8,507.9 181.3,507.5 182.9,502.3 183.9,499.2 187.0,500.3 189.1,503.3 191.1,505.4 194.2,504.0 196.3,501.3 199.4,497.2 202.5,493.1 205.5,488.9 208.6,488.9 210.7,490.6 212.7,486.9 214.8,481.7 216.9,475.6 220.0,469.4 224.1,461.2 227.2,455.0 229.8,447.8 232.3,445.7 235.4,444.7 237.4,445.7 239.5,447.8 240.0,448.0 242.9,448.9 246.8,442.1 251.6,439.2 255.5,436.3 259.4,435.0 263.2,436.9 267.1,435.0 271.0,436.9 275.8,426.6 279.7,429.2 282.6,428.0 287.5,429.9 292.3,427.2 297.1,431.1 300.0,431.5 303.0,429.9 305.9,431.1 309.7,435.0 312.6,435.8 315.5,437.3 319.4,440.2 322.3,435.8 325.2,443.1 329.1,446.6 332.0,448.0 334.9,447.4 338.8,452.4 341.7,453.2 344.6,456.7 348.5,462.5 351.4,468.7 354.3,469.3 358.2,475.7 361.1,477.0 364.0,478.0 366.9,480.3 370.8,486.1 373.7,484.8 377.5,484.8 381.4,484.8 384.3,483.2 384.3,530.3" fill="#5b9bd5" stroke="#2f4f6f" stroke-width="0.8"/>
<line x1="109.4" y1="530.3" x2="384.3" y2="530.3" stroke="#d0d0d0" stroke-width="1"/>
<line x1="109.4" y1="530.3" x2="109.4" y2="533.3" stroke="#d0d0d0" stroke-width="1"/>
<line x1="123.7" y1="530.3" x2="123.7" y2="533.3" stroke="#d0d0d0" stroke-width="1"/>
<line x1="138.0" y1="530.3" x2="138.0" y2="533.3" stroke="#d0d0d0" stroke-width="1"/>
<line x1="152.3" y1="530.3" x2="152.3" y2="533.3" stroke="#d0d0d0" stroke-width="1"/>
<line x1="166.6" y1="530.3" x2="166.6" y2="533.3" stroke="#d0d0d0" stroke-width="1"/>
<line x1="180.9" y1="530.3" x2="180.9" y2="533.3" stroke="#d0d0d0" stroke-width="1"/>
<line x1="195.2" y1="530.3" x2="195.2" y2="533.3" stroke="#d0d0d0" stroke-width="1"/>
<line x1="209.5" y1="530.3" x2="209.5" y2="533.3" stroke="#d0d0d0" stroke-width="1"/>
<line x1="223.8" y1="530.3" x2="223.8" y2="533.3" stroke="#d0d0d0" stroke-width="1"/>
<line x1="238.1" y1="530.3" x2="238.1" y2="533.3" stroke="#d0d0d0" stroke-width="1"/>
<line x1="252.4" y1="530.3" x2="252.4" y2="533.3" stroke="#d0d0d0" stroke-width="1"/>
<line x1="266.7" y1="530.3" x2="266.7" y2="533.3" stroke="#d0d0d0" stroke-width="1"/>
<line x1="281.0" y1="530.3" x2="281.0" y2="533.3" stroke="#d0d0d0" stroke-width="1"/>
<line x1="295.3" y1="530.3" x2="295.3" y2="533.3" stroke="#d0d0d0" stroke-width="1"/>
<line x1="309.6" y1="530.3" x2="309.6" y2="533.3" stroke="#d0d0d0" stroke-width="1"/>
<line x1="323.9" y1="530.3" x2="323.9" y2="533.3" stroke="#d0d0d0" stroke-width="1"/>
<line x1="338.2" y1="530.3" x2="338.2" y2="533.3" stroke="#d0d0d0" stroke-width="1"/>
<line x1="352.5" y1="530.3" x2="352.5" y2="533.3" stroke="#d0d0d0" stroke-width="1"/>
<line x1="366.8" y1="530.3" x2="366.8" y2="533.3" stroke="#d0d0d0" stroke-width="1"/>
<line x1="381.1" y1="530.3" x2="381.1" y2="533.3" stroke="#d0d0d0" stroke-width="1"/>
<text x="98.0" y="414.8" font-size="8.20" fill="#6a6a6a" font-family="'Liberation Sans','Noto Sans CJK SC',sans-serif" text-anchor="end" font-weight="normal">160</text>
<text x="98.0" y="429.6" font-size="8.20" fill="#6a6a6a" font-family="'Liberation Sans','Noto Sans CJK SC',sans-serif" text-anchor="end" font-weight="normal">140</text>
<text x="98.0" y="444.4" font-size="8.20" fill="#6a6a6a" font-family="'Liberation Sans','Noto Sans CJK SC',sans-serif" text-anchor="end" font-weight="normal">120</text>
<text x="98.0" y="459.2" font-size="8.20" fill="#6a6a6a" font-family="'Liberation Sans','Noto Sans CJK SC',sans-serif" text-anchor="end" font-weight="normal">100</text>
<text x="98.0" y="474.0" font-size="8.20" fill="#6a6a6a" font-family="'Liberation Sans','Noto Sans CJK SC',sans-serif" text-anchor="end" font-weight="normal">80</text>
<text x="98.0" y="488.9" font-size="8.20" fill="#6a6a6a" font-family="'Liberation Sans','Noto Sans CJK SC',sans-serif" text-anchor="end" font-weight="normal">60</text>
<text x="98.0" y="503.7" font-size="8.20" fill="#6a6a6a" font-family="'Liberation Sans','Noto Sans CJK SC',sans-serif" text-anchor="end" font-weight="normal">40</text>
<text x="98.0" y="518.5" font-size="8.20" fill="#6a6a6a" font-family="'Liberation Sans','Noto Sans CJK SC',sans-serif" text-anchor="end" font-weight="normal">20</text>
<text x="98.0" y="533.3" font-size="8.20" fill="#6a6a6a" font-family="'Liberation Sans','Noto Sans CJK SC',sans-serif" text-anchor="end" font-weight="normal">0</text>
<text x="86.0" y="405.0" font-size="8.20" fill="#6a6a6a" font-family="'Noto Serif CJK SC','Liberation Serif',serif" text-anchor="start" font-weight="normal" textLength="17.0" lengthAdjust="spacingAndGlyphs">万吨</text>
<rect x="179.3" y="393.6" width="4.4" height="4.4" fill="#5b9bd5" stroke="#2f4f6f" stroke-width="0.5"/>
<text x="184.5" y="398.8" font-size="8.20" fill="#6a6a6a" font-family="'Noto Serif CJK SC','Liberation Serif',serif" text-anchor="start" font-weight="normal" textLength="112.0" lengthAdjust="spacingAndGlyphs">库存:乙二醇:华东地区:合计</text>
<text transform="translate(112.4,535.3) rotate(-90)" font-size="8.20" fill="#6a6a6a" font-family="'Liberation Serif','Noto Serif CJK SC',serif" text-anchor="end" textLength="33.0" lengthAdjust="spacingAndGlyphs">19/07/18</text>
<text transform="translate(126.7,535.3) rotate(-90)" font-size="8.20" fill="#6a6a6a" font-family="'Liberation Serif','Noto Serif CJK SC',serif" text-anchor="end" textLength="33.0" lengthAdjust="spacingAndGlyphs">19/08/18</text>
<text transform="translate(141.0,535.3) rotate(-90)" font-size="8.20" fill="#6a6a6a" font-family="'Liberation Serif','Noto Serif CJK SC',serif" text-anchor="end" textLength="33.0" lengthAdjust="spacingAndGlyphs">19/09/18</text>
<text transform="translate(155.3,535.3) rotate(-90)" font-size="8.20" fill="#6a6a6a" font-family="'Liberation Serif','Noto Serif CJK SC',serif" text-anchor="end" textLength="33.0" lengthAdjust="spacingAndGlyphs">19/10/18</text>
<text transform="translate(169.6,535.3) rotate(-90)" font-size="8.20" fill="#6a6a6a" font-family="'Liberation Serif','Noto Serif CJK SC',serif" text-anchor="end" textLength="33.0" lengthAdjust="spacingAndGlyphs">19/11/18</text>
<text transform="translate(183.9,535.3) rotate(-90)" font-size="8.20" fill="#6a6a6a" font-family="'Liberation Serif','Noto Serif CJK SC',serif" text-anchor="end" textLength="33.0" lengthAdjust="spacingAndGlyphs">19/12/18</text>
<text transform="translate(198.2,535.3) rotate(-90)" font-size="8.20" fill="#6a6a6a" font-family="'Liberation Serif','Noto Serif CJK SC',serif" text-anchor="end" textLength="33.0" lengthAdjust="spacingAndGlyphs">20/01/18</text>
<text transform="translate(212.5,535.3) rotate(-90)" font-size="8.20" fill="#6a6a6a" font-family="'Liberation Serif','Noto Serif CJK SC',serif" text-anchor="end" textLength="33.0" lengthAdjust="spacingAndGlyphs">20/02/18</text>
<text transform="translate(226.8,535.3) rotate(-90)" font-size="8.20" fill="#6a6a6a" font-family="'Liberation Serif','Noto Serif CJK SC',serif" text-anchor="end" textLength="33.0" lengthAdjust="spacingAndGlyphs">20/03/18</text>
<text transform="translate(241.1,535.3) rotate(-90)" font-size="8.20" fill="#6a6a6a" font-family="'Liberation Serif','Noto Serif CJK SC',serif" text-anchor="end" textLength="33.0" lengthAdjust="spacingAndGlyphs">20/04/18</text>
<text transform="translate(255.4,535.3) rotate(-90)" font-size="8.20" fill="#6a6a6a" font-family="'Liberation Serif','Noto Serif CJK SC',serif" text-anchor="end" textLength="33.0" lengthAdjust="spacingAndGlyphs">20/05/18</text>
<text transform="translate(269.7,535.3) rotate(-90)" font-size="8.20" fill="#6a6a6a" font-family="'Liberation Serif','Noto Serif CJK SC',serif" text-anchor="end" textLength="33.0" lengthAdjust="spacingAndGlyphs">20/06/18</text>
<text transform="translate(284.0,535.3) rotate(-90)" font-size="8.20" fill="#6a6a6a" font-family="'Liberation Serif','Noto Serif CJK SC',serif" text-anchor="end" textLength="33.0" lengthAdjust="spacingAndGlyphs">20/07/18</text>
<text transform="translate(298.3,535.3) rotate(-90)" font-size="8.20" fill="#6a6a6a" font-family="'Liberation Serif','Noto Serif CJK SC',serif" text-anchor="end" textLength="33.0" lengthAdjust="spacingAndGlyphs">20/08/18</text>
<text transform="translate(312.6,535.3) rotate(-90)" font-size="8.20" fill="#6a6a6a" font-family="'Liberation Serif','Noto Serif CJK SC',serif" text-anchor="end" textLength="33.0" lengthAdjust="spacingAndGlyphs">20/09/18</text>
<text transform="translate(326.9,535.3) rotate(-90)" font-size="8.20" fill="#6a6a6a" font-family="'Liberation Serif','Noto Serif CJK SC',serif" text-anchor="end" textLength="33.0" lengthAdjust="spacingAndGlyphs">20/10/18</text>
<text transform="translate(341.2,535.3) rotate(-90)" font-size="8.20" fill="#6a6a6a" font-family="'Liberation Serif','Noto Serif CJK SC',serif" text-anchor="end" textLength="33.0" lengthAdjust="spacingAndGlyphs">20/11/18</text>
<text transform="translate(355.5,535.3) rotate(-90)" font-size="8.20" fill="#6a6a6a" font-family="'Liberation Serif','Noto Serif CJK SC',serif" text-anchor="end" textLength="33.0" lengthAdjust="spacingAndGlyphs">20/12/18</text>
<text transform="translate(369.8,535.3) rotate(-90)" font-size="8.20" fill="#6a6a6a" font-family="'Liberation Serif','Noto Serif CJK SC',serif" text-anchor="end" textLength="33.0" lengthAdjust="spacingAndGlyphs">21/01/18</text>
<text transform="translate(384.1,535.3) rotate(-90)" font-size="8.20" fill="#6a6a6a" font-family="'Liberation Serif','Noto Serif CJK SC',serif" text-anchor="end" textLength="33.0" lengthAdjust="spacingAndGlyphs">21/02/18</text>
<line x1="467.5" y1="413.4" x2="712.7" y2="413.4" stroke="#d9d9d9" stroke-width="1"/>
<line x1="467.5" y1="428.3" x2="712.7" y2="428.3" stroke="#d9d9d9" stroke-width="1"/>
<line x1="467.5" y1="443.1" x2="712.7" y2="443.1" stroke="#d9d9d9" stroke-width="1"/>
<line x1="467.5" y1="458.0" x2="712.7" y2="458.0" stroke="#d9d9d9" stroke-width="1"/>
<line x1="467.5" y1="472.9" x2="712.7" y2="472.9" stroke="#d9d9d9" stroke-width="1"/>
<line x1="467.5" y1="487.8" x2="712.7" y2="487.8" stroke="#d9d9d9" stroke-width="1"/>
<line x1="467.5" y1="502.6" x2="712.7" y2="502.6" stroke="#d9d9d9" stroke-width="1"/>
<line x1="467.5" y1="517.5" x2="712.7" y2="517.5" stroke="#d9d9d9" stroke-width="1"/>
<line x1="467.5" y1="532.4" x2="712.7" y2="532.4" stroke="#d0d0d0" stroke-width="1"/>
<line x1="467.5" y1="532.4" x2="467.5" y2="535.4" stroke="#d0d0d0" stroke-width="1"/>
<line x1="484.1" y1="532.4" x2="484.1" y2="535.4" stroke="#d0d0d0" stroke-width="1"/>
<line x1="500.8" y1="532.4" x2="500.8" y2="535.4" stroke="#d0d0d0" stroke-width="1"/>
<line x1="517.5" y1="532.4" x2="517.5" y2="535.4" stroke="#d0d0d0" stroke-width="1"/>
<line x1="534.1" y1="532.4" x2="534.1" y2="535.4" stroke="#d0d0d0" stroke-width="1"/>
<line x1="550.8" y1="532.4" x2="550.8" y2="535.4" stroke="#d0d0d0" stroke-width="1"/>
<line x1="567.4" y1="532.4" x2="567.4" y2="535.4" stroke="#d0d0d0" stroke-width="1"/>
<line x1="584.0" y1="532.4" x2="584.0" y2="535.4" stroke="#d0d0d0" stroke-width="1"/>
<line x1="600.7" y1="532.4" x2="600.7" y2="535.4" stroke="#d0d0d0" stroke-width="1"/>
<line x1="617.4" y1="532.4" x2="617.4" y2="535.4" stroke="#d0d0d0" stroke-width="1"/>
<line x1="634.0" y1="532.4" x2="634.0" y2="535.4" stroke="#d0d0d0" stroke-width="1"/>
<line x1="650.6" y1="532.4" x2="650.6" y2="535.4" stroke="#d0d0d0" stroke-width="1"/>
<line x1="667.3" y1="532.4" x2="667.3" y2="535.4" stroke="#d0d0d0" stroke-width="1"/>
<line x1="684.0" y1="532.4" x2="684.0" y2="535.4" stroke="#d0d0d0" stroke-width="1"/>
<line x1="700.6" y1="532.4" x2="700.6" y2="535.4" stroke="#d0d0d0" stroke-width="1"/>
<polyline points="467.5,419.0 468.3,421.0 469.6,424.1 471.0,422.0 472.0,421.7 473.1,421.6 474.1,420.1 475.1,420.4 476.2,421.4 477.2,423.1 478.2,424.4 479.2,425.1 480.3,427.7 481.3,430.3 482.3,431.5 483.4,434.4 484.4,441.6 485.4,444.1 486.5,444.7 487.5,445.3 488.5,444.7 490.2,441.0 491.6,445.7 492.6,447.7 493.7,447.8 494.7,449.6 495.7,452.9 496.7,454.0 497.8,456.0 498.8,455.1 499.8,456.6 500.9,456.0 501.9,455.5 502.9,455.3 503.9,455.8 505.0,456.0 506.0,457.1 507.0,457.2 508.1,456.3 509.1,457.0 510.1,456.5 511.2,458.1 512.2,457.4 513.2,456.8 514.2,456.2 515.3,455.0 516.3,453.6 517.3,453.9 518.4,453.7 519.4,455.7 520.4,456.0 521.4,457.2 522.5,457.9 523.5,460.1 524.5,461.5 525.6,461.4 526.6,462.3 527.6,462.2 528.6,461.9 529.7,463.9 530.7,462.9 531.7,464.2 532.8,466.0 533.8,466.2 534.8,467.3 535.8,467.3 536.9,468.1 537.9,468.4 538.9,468.9 540.0,467.4 541.0,466.8 542.0,467.3 543.1,467.3 544.1,466.6 545.1,466.2 546.1,466.9 547.2,466.3 548.2,466.2 549.2,466.6 550.3,467.3 551.3,466.7 552.3,466.4 553.3,467.1 554.4,466.3 555.4,465.9 556.4,466.3 557.5,465.7 558.5,466.3 559.5,465.2 560.5,463.8 561.6,463.5 562.6,463.2 563.6,461.5 564.7,462.1 565.7,461.0 566.7,460.1 567.7,455.9 568.8,452.9 569.8,453.9 570.8,455.0 571.9,455.8 572.9,454.2 573.9,455.6 575.0,455.0 576.0,457.2 577.0,459.8 578.0,462.2 579.1,463.1 580.1,462.4 581.1,462.8 582.2,463.4 583.2,463.2 584.2,464.0 585.2,462.6 586.3,463.4 587.3,462.9 588.3,462.6 589.4,462.2 590.4,459.9 591.4,457.8 592.4,456.0 593.9,445.7 595.0,446.7 596.0,456.0 597.1,455.6 598.1,457.0 599.1,453.7 600.1,451.9 601.2,451.0 602.2,451.9 603.2,454.9 604.3,457.0 605.3,460.7 606.3,465.3 607.3,465.6 608.4,467.3 609.4,466.5 610.4,468.0 611.5,467.3 612.5,468.4 613.5,468.4 614.6,468.4 615.6,470.0 616.6,472.5 617.6,473.5 618.7,475.6 619.7,478.2 620.7,481.7 621.8,483.7 622.8,485.8 623.8,483.1 624.8,481.7 625.9,481.3 626.9,480.6 627.9,480.7 629.0,482.0 630.0,482.3 631.0,481.7 632.0,481.1 633.1,479.8 634.1,479.7 635.1,480.3 636.2,478.8 637.2,478.6 638.2,478.6 639.2,477.6 640.3,478.4 641.3,478.6 642.3,478.9 643.4,479.3 644.4,479.7 645.4,479.3 646.5,480.2 647.5,479.5 648.5,480.7 649.5,479.9 650.6,479.2 651.6,479.7 652.6,478.8 653.7,477.4 654.7,477.6 655.7,476.4 656.7,476.7 657.8,476.3 658.8,476.6 659.8,476.5 660.9,476.1 661.9,476.3 662.9,475.6 663.9,475.2 665.0,474.6 666.0,473.5 667.0,474.3 668.1,473.3 669.1,473.5 670.1,474.2 671.2,476.5 672.2,476.6 673.2,476.2 674.2,477.7 675.3,477.6 676.3,477.2 677.3,475.3 678.4,475.6 679.4,476.2 680.4,476.3 681.4,475.6 682.5,476.3 683.5,477.1 684.5,477.7 685.6,477.6 686.6,476.4 687.6,476.6 688.6,476.1 689.7,475.6 690.7,475.5 691.7,474.6 692.8,473.9 693.8,472.5 694.8,471.9 695.8,471.7 696.9,470.5 697.9,469.4 698.9,467.2 700.0,464.2 701.0,463.7 702.0,463.3 703.1,464.2 704.1,463.8 705.1,464.6 706.1,465.3 707.2,462.4 708.2,461.2 709.2,459.2 710.3,456.0 711.7,450.9 712.7,436.5" fill="none" stroke="#1f3553" stroke-width="1.8" stroke-linejoin="round"/>
<polyline points="467.5,424.1 469.0,428.2 470.0,427.8 471.0,427.2 472.0,426.4 473.1,425.1 474.1,425.7 475.1,426.2 476.2,426.2 477.2,427.2 478.2,427.2 479.2,429.2 480.3,431.9 481.3,433.9 482.3,435.4 483.4,440.1 484.4,444.7 485.4,446.8 486.5,449.1 487.5,450.9 488.5,449.0 489.5,448.8 490.6,450.3 491.6,450.9 492.6,450.7 493.7,450.7 494.7,451.9 495.7,454.0 496.7,457.0 497.8,457.7 498.8,457.0 499.8,458.3 500.9,458.1 501.9,459.0 502.9,458.1 503.9,457.8 505.0,458.1 506.0,458.0 507.0,458.4 508.1,458.6 509.1,458.1 510.1,458.8 511.2,459.3 512.2,459.5 513.2,457.5 514.2,456.5 515.3,456.0 516.3,455.5 517.3,456.5 518.4,456.0 519.4,456.6 520.4,458.2 521.4,459.1 522.5,458.9 523.5,459.8 524.5,460.9 525.6,462.2 526.6,463.0 527.6,463.6 528.6,464.1 529.7,464.2 530.7,464.8 531.7,466.3 532.8,467.3 533.8,468.4 534.8,468.5 535.8,468.1 536.9,469.9 537.9,469.4 538.9,468.5 540.0,469.8 541.0,469.5 542.0,468.4 543.1,467.6 544.1,468.8 545.1,469.8 546.1,469.4 547.2,470.1 548.2,468.8 549.2,468.1 550.3,468.4 551.3,468.0 552.3,469.8 553.3,468.5 554.4,469.4 555.4,470.2 556.4,470.0 557.5,471.4 558.5,470.8 559.5,471.0 560.5,469.4 561.6,467.9 562.6,468.5 563.6,467.1 564.7,466.3 565.7,464.3 566.7,461.2 567.7,458.1 568.8,457.9 569.8,459.5 570.8,459.1 571.9,459.3 572.9,458.7 573.9,458.9 575.0,460.1 576.0,462.2 577.0,464.1 578.0,466.3 579.1,466.1 580.1,466.0 581.1,466.6 582.2,466.8 583.2,467.3 584.2,467.8 585.2,466.0 586.3,467.3 587.3,467.3 588.3,465.7 589.4,466.3 590.4,465.3 591.4,463.1 592.4,461.7 593.5,459.1 595.0,463.2 596.0,462.3 597.1,462.2 598.1,460.6 599.1,459.2 600.1,458.1 601.2,459.6 602.2,459.1 603.2,461.8 604.3,464.2 605.3,467.6 606.3,471.4 607.3,471.0 608.4,470.3 609.4,470.4 610.4,469.5 611.5,469.6 612.5,470.4 613.5,471.4 614.6,470.7 615.6,471.4 616.6,474.4 617.6,475.6 618.7,478.1 619.7,481.7 620.7,485.4 621.8,490.0 622.8,488.4 623.8,486.9 624.8,485.6 625.9,485.3 626.9,484.8 627.9,486.8 629.0,486.9 630.0,486.3 631.0,484.8 632.0,482.8 633.1,482.8 634.1,483.1 635.1,482.9 636.2,481.7 637.2,481.6 638.2,481.7 639.2,480.1 640.3,480.7 641.3,481.4 642.3,481.1 643.4,482.0 644.4,481.7 645.4,482.3 646.5,481.8 647.5,481.6 648.5,482.8 649.5,482.8 650.6,480.5 651.6,480.4 652.6,479.7 653.7,479.1 654.7,478.8 655.7,479.4 656.7,478.6 657.8,479.3 658.8,477.6 659.8,478.2 660.9,477.6 661.9,476.7 662.9,476.7 663.9,475.9 665.0,475.6 666.0,474.2 667.0,473.5 668.1,473.5 669.1,473.9 670.1,476.4 671.2,476.6 672.2,476.9 673.2,476.7 674.2,477.6 675.3,477.7 676.3,477.2 677.3,475.6 678.4,475.1 679.4,474.2 680.4,474.5 681.4,474.3 682.5,474.4 683.5,475.6 684.5,475.0 685.6,474.2 686.6,474.3 687.6,474.5 688.6,473.5 689.7,473.6 690.7,473.8 691.7,472.5 692.8,472.2 693.8,470.8 694.8,470.0 695.8,469.4 696.9,467.7 697.9,465.7 698.9,464.2 700.0,463.2 701.0,462.0 702.0,462.2 703.1,461.4 704.1,462.4 705.1,461.2 706.1,458.3 707.2,457.0 708.2,456.5 709.2,456.0 710.3,453.7 711.3,450.9 712.7,433.4" fill="none" stroke="#4fb2a0" stroke-width="1.8" stroke-linejoin="round"/>
<text x="455.6" y="416.4" font-size="8.20" fill="#6a6a6a" font-family="'Liberation Sans','Noto Sans CJK SC',sans-serif" text-anchor="end" font-weight="normal">8000</text>
<text x="455.6" y="431.3" font-size="8.20" fill="#6a6a6a" font-family="'Liberation Sans','Noto Sans CJK SC',sans-serif" text-anchor="end" font-weight="normal">7000</text>
<text x="455.6" y="446.1" font-size="8.20" fill="#6a6a6a" font-family="'Liberation Sans','Noto Sans CJK SC',sans-serif" text-anchor="end" font-weight="normal">6000</text>
<text x="455.6" y="461.0" font-size="8.20" fill="#6a6a6a" font-family="'Liberation Sans','Noto Sans CJK SC',sans-serif" text-anchor="end" font-weight="normal">5000</text>
<text x="455.6" y="475.9" font-size="8.20" fill="#6a6a6a" font-family="'Liberation Sans','Noto Sans CJK SC',sans-serif" text-anchor="end" font-weight="normal">4000</text>
<text x="455.6" y="490.8" font-size="8.20" fill="#6a6a6a" font-family="'Liberation Sans','Noto Sans CJK SC',sans-serif" text-anchor="end" font-weight="normal">3000</text>
<text x="455.6" y="505.6" font-size="8.20" fill="#6a6a6a" font-family="'Liberation Sans','Noto Sans CJK SC',sans-serif" text-anchor="end" font-weight="normal">2000</text>
<text x="455.6" y="520.5" font-size="8.20" fill="#6a6a6a" font-family="'Liberation Sans','Noto Sans CJK SC',sans-serif" text-anchor="end" font-weight="normal">1000</text>
<text x="455.6" y="535.4" font-size="8.20" fill="#6a6a6a" font-family="'Liberation Sans','Noto Sans CJK SC',sans-serif" text-anchor="end" font-weight="normal">0</text>
<text x="720.5" y="416.6" font-size="8.20" fill="#6a6a6a" font-family="'Liberation Serif','Noto Serif CJK SC',serif" text-anchor="start" font-weight="normal">1000</text>
<text x="720.5" y="428.5" font-size="8.20" fill="#6a6a6a" font-family="'Liberation Serif','Noto Serif CJK SC',serif" text-anchor="start" font-weight="normal">900</text>
<text x="720.5" y="440.4" font-size="8.20" fill="#6a6a6a" font-family="'Liberation Serif','Noto Serif CJK SC',serif" text-anchor="start" font-weight="normal">800</text>
<text x="720.5" y="452.2" font-size="8.20" fill="#6a6a6a" font-family="'Liberation Serif','Noto Serif CJK SC',serif" text-anchor="start" font-weight="normal">700</text>
<text x="720.5" y="464.1" font-size="8.20" fill="#6a6a6a" font-family="'Liberation Serif','Noto Serif CJK SC',serif" text-anchor="start" font-weight="normal">600</text>
<text x="720.5" y="476.0" font-size="8.20" fill="#6a6a6a" font-family="'Liberation Serif','Noto Serif CJK SC',serif" text-anchor="start" font-weight="normal">500</text>
<text x="720.5" y="487.9" font-size="8.20" fill="#6a6a6a" font-family="'Liberation Serif','Noto Serif CJK SC',serif" text-anchor="start" font-weight="normal">400</text>
<text x="720.5" y="499.8" font-size="8.20" fill="#6a6a6a" font-family="'Liberation Serif','Noto Serif CJK SC',serif" text-anchor="start" font-weight="normal">300</text>
<text x="720.5" y="511.6" font-size="8.20" fill="#6a6a6a" font-family="'Liberation Serif','Noto Serif CJK SC',serif" text-anchor="start" font-weight="normal">200</text>
<text x="720.5" y="523.5" font-size="8.20" fill="#6a6a6a" font-family="'Liberation Serif','Noto Serif CJK SC',serif" text-anchor="start" font-weight="normal">100</text>
<text x="720.5" y="535.4" font-size="8.20" fill="#6a6a6a" font-family="'Liberation Serif','Noto Serif CJK SC',serif" text-anchor="start" font-weight="normal">0</text>
<text x="445.5" y="402.0" font-size="8.20" fill="#6a6a6a" font-family="'Noto Serif CJK SC','Liberation Serif',serif" text-anchor="start" font-weight="normal" textLength="19.6" lengthAdjust="spacingAndGlyphs">元/吨</text>
<text x="712.0" y="402.5" font-size="8.20" fill="#6a6a6a" font-family="'Noto Serif CJK SC','Liberation Serif',serif" text-anchor="start" font-weight="normal" textLength="30.0" lengthAdjust="spacingAndGlyphs">美元/吨</text>
<line x1="538" y1="397" x2="555.4" y2="397" stroke="#1f3553" stroke-width="2"/>
<text x="556.4" y="400.0" font-size="8.20" fill="#6a6a6a" font-family="'Liberation Serif','Noto Serif CJK SC',serif" text-anchor="start" font-weight="normal" textLength="32.0" lengthAdjust="spacingAndGlyphs">MEG内盘</text>
<line x1="596" y1="397" x2="613.5" y2="397" stroke="#4fb2a0" stroke-width="2"/>
<text x="614.5" y="400.0" font-size="8.20" fill="#6a6a6a" font-family="'Liberation Serif','Noto Serif CJK SC',serif" text-anchor="start" font-weight="normal" textLength="31.0" lengthAdjust="spacingAndGlyphs">MEG外盘</text>
<text transform="translate(470.0,541.9) rotate(-45)" font-size="8.20" fill="#6a6a6a" font-family="'Liberation Serif','Noto Serif CJK SC',serif" text-anchor="end" textLength="36.0" lengthAdjust="spacingAndGlyphs">18/09/12</text>
<text transform="translate(486.6,541.9) rotate(-45)" font-size="8.20" fill="#6a6a6a" font-family="'Liberation Serif','Noto Serif CJK SC',serif" text-anchor="end" textLength="36.0" lengthAdjust="spacingAndGlyphs">18/11/12</text>
<text transform="translate(503.3,541.9) rotate(-45)" font-size="8.20" fill="#6a6a6a" font-family="'Liberation Serif','Noto Serif CJK SC',serif" text-anchor="end" textLength="36.0" lengthAdjust="spacingAndGlyphs">19/01/12</text>
<text transform="translate(520.0,541.9) rotate(-45)" font-size="8.20" fill="#6a6a6a" font-family="'Liberation Serif','Noto Serif CJK SC',serif" text-anchor="end" textLength="36.0" lengthAdjust="spacingAndGlyphs">19/03/12</text>
<text transform="translate(536.6,541.9) rotate(-45)" font-size="8.20" fill="#6a6a6a" font-family="'Liberation Serif','Noto Serif CJK SC',serif" text-anchor="end" textLength="36.0" lengthAdjust="spacingAndGlyphs">19/05/12</text>
<text transform="translate(553.2,541.9) rotate(-45)" font-size="8.20" fill="#6a6a6a" font-family="'Liberation Serif','Noto Serif CJK SC',serif" text-anchor="end" textLength="36.0" lengthAdjust="spacingAndGlyphs">19/07/12</text>
<text transform="translate(569.9,541.9) rotate(-45)" font-size="8.20" fill="#6a6a6a" font-family="'Liberation Serif','Noto Serif CJK SC',serif" text-anchor="end" textLength="36.0" lengthAdjust="spacingAndGlyphs">19/09/12</text>
<text transform="translate(586.5,541.9) rotate(-45)" font-size="8.20" fill="#6a6a6a" font-family="'Liberation Serif','Noto Serif CJK SC',serif" text-anchor="end" textLength="36.0" lengthAdjust="spacingAndGlyphs">19/11/12</text>
<text transform="translate(603.2,541.9) rotate(-45)" font-size="8.20" fill="#6a6a6a" font-family="'Liberation Serif','Noto Serif CJK SC',serif" text-anchor="end" textLength="36.0" lengthAdjust="spacingAndGlyphs">20/01/12</text>
<text transform="translate(619.9,541.9) rotate(-45)" font-size="8.20" fill="#6a6a6a" font-family="'Liberation Serif','Noto Serif CJK SC',serif" text-anchor="end" textLength="36.0" lengthAdjust="spacingAndGlyphs">20/03/12</text>
<text transform="translate(636.5,541.9) rotate(-45)" font-size="8.20" fill="#6a6a6a" font-family="'Liberation Serif','Noto Serif CJK SC',serif" text-anchor="end" textLength="36.0" lengthAdjust="spacingAndGlyphs">20/05/12</text>
<text transform="translate(653.1,541.9) rotate(-45)" font-size="8.20" fill="#6a6a6a" font-family="'Liberation Serif','Noto Serif CJK SC',serif" text-anchor="end" textLength="36.0" lengthAdjust="spacingAndGlyphs">20/07/12</text>
<text transform="translate(669.8,541.9) rotate(-45)" font-size="8.20" fill="#6a6a6a" font-family="'Liberation Serif','Noto Serif CJK SC',serif" text-anchor="end" textLength="36.0" lengthAdjust="spacingAndGlyphs">20/09/12</text>
<text transform="translate(686.5,541.9) rotate(-45)" font-size="8.20" fill="#6a6a6a" font-family="'Liberation Serif','Noto Serif CJK SC',serif" text-anchor="end" textLength="36.0" lengthAdjust="spacingAndGlyphs">20/11/12</text>
<text transform="translate(703.1,541.9) rotate(-45)" font-size="8.20" fill="#6a6a6a" font-family="'Liberation Serif','Noto Serif CJK SC',serif" text-anchor="end" textLength="36.0" lengthAdjust="spacingAndGlyphs">21/01/12</text>
<line x1="110.0" y1="661.3" x2="366.3" y2="661.3" stroke="#d9d9d9" stroke-width="1"/>
<line x1="110.0" y1="673.7" x2="366.3" y2="673.7" stroke="#d9d9d9" stroke-width="1"/>
<line x1="110.0" y1="686.1" x2="366.3" y2="686.1" stroke="#d9d9d9" stroke-width="1"/>
<line x1="110.0" y1="698.5" x2="366.3" y2="698.5" stroke="#d9d9d9" stroke-width="1"/>
<line x1="110.0" y1="710.9" x2="366.3" y2="710.9" stroke="#d9d9d9" stroke-width="1"/>
<line x1="110.0" y1="723.2" x2="366.3" y2="723.2" stroke="#d9d9d9" stroke-width="1"/>
<line x1="110.0" y1="735.6" x2="366.3" y2="735.6" stroke="#d9d9d9" stroke-width="1"/>
<line x1="110.0" y1="748.0" x2="366.3" y2="748.0" stroke="#d9d9d9" stroke-width="1"/>
<line x1="110.0" y1="760.4" x2="366.3" y2="760.4" stroke="#d9d9d9" stroke-width="1"/>
<line x1="110.0" y1="772.8" x2="366.3" y2="772.8" stroke="#d9d9d9" stroke-width="1"/>
<polygon points="110.0,785.2 110.2,684.9 113.7,683.3 115.9,684.4 117.5,685.4 120.3,684.4 122.4,684.9 124.1,686.0 126.2,688.7 127.3,690.4 129.0,689.8 130.6,699.6 132.8,694.2 134.4,697.4 136.6,694.2 138.8,693.1 139.9,690.4 141.0,693.1 142.6,700.2 144.2,699.1 146.4,701.8 146.9,702.9 150.2,701.8 152.9,702.3 156.2,703.4 159.5,706.2 161.7,708.9 163.8,710.5 166.0,708.3 167.7,706.7 169.3,710.0 171.5,709.4 173.1,706.2 174.7,705.1 176.9,708.3 179.1,700.7 180.2,699.6 181.3,705.1 182.4,701.8 184.0,703.4 185.6,704.5 187.8,706.2 190.0,705.6 192.2,705.1 195.4,707.2 196.5,706.2 198.7,705.6 200.9,708.3 203.1,705.1 205.3,703.4 207.4,704.0 209.1,704.5 210.7,705.1 211.8,705.6 213.4,696.3 215.1,689.8 216.7,688.2 218.1,693.1 218.9,699.6 221.1,697.4 222.7,696.3 224.9,699.1 226.5,699.6 228.1,695.3 229.8,694.2 231.4,697.4 231.9,704.0 233.6,705.1 234.7,703.4 236.9,701.8 238.5,701.2 240.1,710.5 241.8,711.1 243.9,711.1 245.6,711.6 247.7,717.0 249.9,721.4 252.1,729.0 254.3,734.5 256.5,731.2 258.6,730.1 260.8,727.9 263.0,725.8 265.2,727.9 267.4,733.4 270.6,741.0 272.8,741.0 275.0,738.8 277.2,739.4 280.8,738.1 281.9,738.7 284.2,739.8 286.5,737.5 288.8,736.4 292.3,736.4 294.6,741.0 297.4,745.6 298.6,739.8 300.9,736.4 303.8,737.5 306.6,736.4 309.5,739.8 311.8,742.7 313.5,743.3 315.8,742.7 317.0,746.7 318.7,741.0 321.0,734.1 323.3,733.5 326.2,734.1 327.9,739.8 330.2,738.7 332.5,738.1 334.8,737.5 337.7,736.4 339.4,736.9 341.7,735.2 344.0,734.6 346.3,739.2 348.6,736.4 351.5,735.8 353.2,736.9 355.5,739.2 357.8,728.3 359.5,728.3 361.3,732.9 363.6,734.6 365.9,735.2 366.7,735.2 366.3,785.2" fill="#ffc000"/>
<clipPath id="c5clip"><polygon points="110.0,785.2 110.2,684.9 113.7,683.3 115.9,684.4 117.5,685.4 120.3,684.4 122.4,684.9 124.1,686.0 126.2,688.7 127.3,690.4 129.0,689.8 130.6,699.6 132.8,694.2 134.4,697.4 136.6,694.2 138.8,693.1 139.9,690.4 141.0,693.1 142.6,700.2 144.2,699.1 146.4,701.8 146.9,702.9 150.2,701.8 152.9,702.3 156.2,703.4 159.5,706.2 161.7,708.9 163.8,710.5 166.0,708.3 167.7,706.7 169.3,710.0 171.5,709.4 173.1,706.2 174.7,705.1 176.9,708.3 179.1,700.7 180.2,699.6 181.3,705.1 182.4,701.8 184.0,703.4 185.6,704.5 187.8,706.2 190.0,705.6 192.2,705.1 195.4,707.2 196.5,706.2 198.7,705.6 200.9,708.3 203.1,705.1 205.3,703.4 207.4,704.0 209.1,704.5 210.7,705.1 211.8,705.6 213.4,696.3 215.1,689.8 216.7,688.2 218.1,693.1 218.9,699.6 221.1,697.4 222.7,696.3 224.9,699.1 226.5,699.6 228.1,695.3 229.8,694.2 231.4,697.4 231.9,704.0 233.6,705.1 234.7,703.4 236.9,701.8 238.5,701.2 240.1,710.5 241.8,711.1 243.9,711.1 245.6,711.6 247.7,717.0 249.9,721.4 252.1,729.0 254.3,734.5 256.5,731.2 258.6,730.1 260.8,727.9 263.0,725.8 265.2,727.9 267.4,733.4 270.6,741.0 272.8,741.0 275.0,738.8 277.2,739.4 280.8,738.1 281.9,738.7 284.2,739.8 286.5,737.5 288.8,736.4 292.3,736.4 294.6,741.0 297.4,745.6 298.6,739.8 300.9,736.4 303.8,737.5 306.6,736.4 309.5,739.8 311.8,742.7 313.5,743.3 315.8,742.7 317.0,746.7 318.7,741.0 321.0,734.1 323.3,733.5 326.2,734.1 327.9,739.8 330.2,738.7 332.5,738.1 334.8,737.5 337.7,736.4 339.4,736.9 341.7,735.2 344.0,734.6 346.3,739.2 348.6,736.4 351.5,735.8 353.2,736.9 355.5,739.2 357.8,728.3 359.5,728.3 361.3,732.9 363.6,734.6 365.9,735.2 366.7,735.2 366.3,785.2"/></clipPath>
<g clip-path="url(#c5clip)">
<rect x="110.2" y="660" width="3.2" height="125.2" fill="#ffe9a0"/>
<rect x="117.5" y="660" width="2.0" height="125.2" fill="#fff4cc"/>
<rect x="126.8" y="660" width="1.3" height="125.2" fill="#fff4cc"/>
<rect x="147.0" y="660" width="2.4" height="125.2" fill="#fff4cc"/>
<rect x="176.4" y="660" width="1.5" height="125.2" fill="#fff4cc"/>
<rect x="180.2" y="660" width="1.4" height="125.2" fill="#fff4cc"/>
<rect x="191.8" y="660" width="1.7" height="125.2" fill="#fff4cc"/>
<rect x="203.6" y="660" width="1.5" height="125.2" fill="#fff4cc"/>
<rect x="206.9" y="660" width="1.4" height="125.2" fill="#fff4cc"/>
<rect x="218.9" y="660" width="1.6" height="125.2" fill="#fff4cc"/>
<rect x="232.0" y="660" width="1.5" height="125.2" fill="#fff4cc"/>
<rect x="235.2" y="660" width="1.0" height="125.2" fill="#fff4cc"/>
<rect x="237.9" y="660" width="1.5" height="125.2" fill="#fff4cc"/>
<rect x="241.2" y="660" width="1.4" height="125.2" fill="#fff4cc"/>
<rect x="271.7" y="660" width="1.9" height="125.2" fill="#fff4cc"/>
<rect x="281.9" y="660" width="1.5" height="125.2" fill="#fff4cc"/>
<rect x="285.9" y="660" width="1.6" height="125.2" fill="#fff4cc"/>
<rect x="298.6" y="660" width="1.7" height="125.2" fill="#fff4cc"/>
<rect x="309.5" y="660" width="1.5" height="125.2" fill="#fff4cc"/>
<rect x="313.0" y="660" width="1.5" height="125.2" fill="#fff4cc"/>
<rect x="327.9" y="660" width="1.0" height="125.2" fill="#fff4cc"/>
<rect x="337.7" y="660" width="1.5" height="125.2" fill="#fff4cc"/>
<rect x="353.2" y="660" width="1.5" height="125.2" fill="#fff4cc"/>
<rect x="356.1" y="660" width="1.5" height="125.2" fill="#fff4cc"/>
<rect x="363.6" y="660" width="1.5" height="125.2" fill="#fff4cc"/>
</g>
<line x1="110.0" y1="785.2" x2="366.3" y2="785.2" stroke="#d0d0d0" stroke-width="1"/>
<line x1="110.0" y1="785.2" x2="110.0" y2="788.2" stroke="#d0d0d0" stroke-width="1"/>
<line x1="124.7" y1="785.2" x2="124.7" y2="788.2" stroke="#d0d0d0" stroke-width="1"/>
<line x1="139.3" y1="785.2" x2="139.3" y2="788.2" stroke="#d0d0d0" stroke-width="1"/>
<line x1="154.0" y1="785.2" x2="154.0" y2="788.2" stroke="#d0d0d0" stroke-width="1"/>
<line x1="168.7" y1="785.2" x2="168.7" y2="788.2" stroke="#d0d0d0" stroke-width="1"/>
<line x1="183.4" y1="785.2" x2="183.4" y2="788.2" stroke="#d0d0d0" stroke-width="1"/>
<line x1="198.1" y1="785.2" x2="198.1" y2="788.2" stroke="#d0d0d0" stroke-width="1"/>
<line x1="212.7" y1="785.2" x2="212.7" y2="788.2" stroke="#d0d0d0" stroke-width="1"/>
<line x1="227.4" y1="785.2" x2="227.4" y2="788.2" stroke="#d0d0d0" stroke-width="1"/>
<line x1="242.1" y1="785.2" x2="242.1" y2="788.2" stroke="#d0d0d0" stroke-width="1"/>
<line x1="256.8" y1="785.2" x2="256.8" y2="788.2" stroke="#d0d0d0" stroke-width="1"/>
<line x1="271.4" y1="785.2" x2="271.4" y2="788.2" stroke="#d0d0d0" stroke-width="1"/>
<line x1="286.1" y1="785.2" x2="286.1" y2="788.2" stroke="#d0d0d0" stroke-width="1"/>
<line x1="300.8" y1="785.2" x2="300.8" y2="788.2" stroke="#d0d0d0" stroke-width="1"/>
<line x1="315.5" y1="785.2" x2="315.5" y2="788.2" stroke="#d0d0d0" stroke-width="1"/>
<line x1="330.1" y1="785.2" x2="330.1" y2="788.2" stroke="#d0d0d0" stroke-width="1"/>
<line x1="344.8" y1="785.2" x2="344.8" y2="788.2" stroke="#d0d0d0" stroke-width="1"/>
<line x1="359.5" y1="785.2" x2="359.5" y2="788.2" stroke="#d0d0d0" stroke-width="1"/>
<polyline points="110.0,686.5 111.0,687.0 112.0,685.7 113.1,685.7 114.1,686.0 115.1,685.9 116.2,686.6 117.2,687.0 118.2,687.5 119.2,688.7 120.3,688.8 121.3,689.2 122.3,688.9 123.4,687.6 124.4,687.1 125.4,687.5 126.5,687.5 127.5,687.5 128.5,686.5 129.5,680.3 130.6,682.3 131.6,684.4 132.6,684.9 133.7,684.2 134.7,685.4 135.7,685.9 136.7,687.6 137.8,687.5 138.8,687.0 139.8,686.1 140.9,684.4 141.9,685.6 142.9,684.6 143.9,685.4 145.0,685.4 146.0,686.2 147.0,687.5 148.1,687.3 149.1,687.3 150.1,687.5 151.2,686.5 152.2,687.1 153.2,687.2 154.2,687.7 155.3,687.5 156.3,687.1 157.3,687.1 158.4,685.9 159.4,686.5 160.4,686.9 161.4,685.8 162.5,686.9 163.5,686.0 164.5,685.9 165.6,684.9 166.6,684.1 167.6,684.4 168.6,683.7 169.7,684.1 170.7,684.0 171.7,683.4 172.8,682.4 173.8,682.1 174.8,682.6 175.8,682.3 176.9,680.6 177.9,678.6 178.9,679.0 180.0,679.2 181.0,680.3 182.0,681.5 183.1,681.5 184.1,683.4 185.1,683.4 186.1,684.0 187.2,684.4 188.2,685.2 189.2,684.7 190.3,684.4 191.3,686.8 192.3,687.8 193.3,689.5 194.4,690.4 195.4,691.8 196.4,693.7 197.5,694.8 198.5,694.7 199.5,694.7 200.5,693.7 201.6,692.5 202.6,692.6 203.6,692.6 204.7,692.9 205.7,692.6 206.7,694.5 207.7,696.3 208.8,698.8 209.8,698.6 210.8,697.8 212.5,703.9 213.9,711.2 215.0,714.3 216.0,715.5 217.0,718.4 218.0,719.2 219.1,721.5 220.1,723.5 221.1,724.7 222.2,726.6 223.2,727.6 224.2,726.0 225.2,725.6 226.3,726.1 227.3,726.0 228.3,725.6 229.4,725.9 230.4,725.7 231.4,726.6 232.4,728.1 233.5,727.6 234.5,728.6 235.0,728.6 236.0,728.7 237.1,727.1 238.1,726.6 239.1,726.6 240.1,726.5 241.2,725.2 242.2,725.9 243.2,724.5 244.3,724.3 245.3,723.5 246.3,723.3 247.3,723.5 248.4,724.0 249.4,725.2 250.4,725.6 251.5,725.7 252.5,723.5 253.5,723.5 254.6,721.9 255.6,720.2 256.6,719.4 257.6,720.2 258.7,718.7 259.7,719.4 260.7,716.9 261.8,715.2 262.8,714.2 263.8,715.1 264.8,717.0 265.9,717.3 266.9,718.4 267.9,718.4 269.0,718.4 270.0,718.9 271.0,718.4 272.0,717.3 273.1,717.3 274.1,717.3 275.1,718.9 276.2,718.4 277.2,718.5 278.2,717.0 279.2,717.9 280.3,717.3 281.3,717.4 282.3,717.6 283.4,717.8 284.4,718.4 285.4,717.2 286.5,716.4 287.5,716.4 288.5,716.3 289.5,716.0 290.6,717.1 291.6,715.6 292.6,716.3 293.7,717.4 294.7,716.3 295.7,716.8 296.7,717.3 297.8,717.9 298.8,717.9 299.8,717.2 300.9,717.3 301.9,716.3 302.9,716.8 303.9,716.3 305.0,716.3 306.0,717.6 307.0,716.8 308.1,717.6 309.1,718.4 310.1,719.4 311.2,718.2 312.2,719.4 313.2,719.0 314.2,719.4 315.3,719.1 316.3,718.4 317.3,716.8 318.4,716.1 319.4,716.3 320.4,715.5 321.4,717.1 322.5,716.3 323.5,716.5 324.5,718.1 325.6,718.4 326.6,720.6 327.6,721.4 328.6,720.8 329.7,720.3 330.7,720.4 331.7,720.5 332.8,719.3 333.8,718.4 334.8,717.4 335.8,717.7 336.9,716.5 337.9,716.3 338.9,715.6 340.0,714.9 341.0,716.0 342.0,715.3 343.1,715.0 344.1,713.4 345.1,712.2 346.1,712.3 347.2,710.0 348.2,710.1 349.2,708.1 350.3,707.0 351.3,707.0 352.3,707.9 353.3,707.0 354.4,707.2 355.4,705.5 356.4,705.0 357.5,702.5 358.5,700.9 359.5,699.9 360.5,699.2 361.6,699.6 362.6,700.8 363.6,700.4 365.0,699.6 366.3,699.8" fill="none" stroke="#1f3553" stroke-width="1.8" stroke-linejoin="round"/>
<polyline points="110.0,728.6 111.0,728.8 112.0,728.4 113.1,727.6 114.1,728.5 115.1,728.8 116.2,728.6 117.2,728.5 118.2,727.6 119.2,727.6 120.3,728.0 121.3,728.7 122.3,729.7 123.4,729.2 124.4,726.9 125.4,726.6 126.8,724.5 128.1,723.5 129.5,714.2 130.6,717.3 131.6,719.4 132.6,720.0 133.7,720.7 134.7,722.5 135.7,722.3 136.7,723.9 137.8,724.5 138.8,722.8 139.8,722.6 140.9,720.4 141.9,720.4 142.9,719.9 143.9,718.4 145.0,719.0 146.0,719.7 147.0,721.4 148.1,720.4 149.1,720.8 150.1,720.4 151.2,720.4 152.2,719.6 153.2,719.4 154.2,718.9 155.3,719.2 156.3,719.6 157.3,719.4 158.4,719.0 159.4,718.5 160.4,717.3 161.4,717.3 162.5,716.2 163.5,715.3 164.5,714.2 165.6,715.2 166.6,714.2 167.6,713.9 168.6,714.4 169.7,714.2 170.7,714.0 171.7,714.7 172.8,713.7 173.8,714.2 174.8,713.5 175.8,713.3 176.9,712.8 177.9,713.2 178.9,714.2 180.0,713.9 181.0,713.7 182.0,714.2 183.1,714.3 184.1,715.6 185.1,715.0 186.1,715.3 187.2,715.0 188.2,716.3 189.2,716.3 190.3,716.3 191.3,717.7 192.3,717.3 193.3,718.7 194.4,721.4 195.4,722.8 196.4,724.8 197.5,725.6 198.5,726.2 199.5,726.3 200.5,725.6 201.6,724.4 202.6,724.5 203.6,724.5 204.7,724.5 205.7,725.3 206.7,726.6 207.7,729.2 208.8,730.2 209.8,731.7 210.8,733.5 211.9,733.8 212.9,737.7 213.9,742.0 215.0,746.1 216.0,748.8 217.0,752.3 218.0,753.4 219.1,755.9 220.1,757.7 221.1,758.5 222.2,759.1 223.2,761.4 224.2,762.6 225.2,762.1 226.3,760.7 227.3,760.5 228.3,760.4 229.4,760.1 230.4,760.3 231.4,761.0 232.4,760.0 233.5,760.2 234.5,759.5 235.0,760.5 236.0,759.8 237.1,758.5 238.1,757.3 239.1,756.2 240.1,756.4 241.2,755.1 242.2,754.7 243.2,753.3 244.3,752.4 245.3,752.3 246.3,752.3 247.3,750.1 248.4,749.4 249.4,747.2 250.4,746.6 251.5,745.0 252.5,745.1 253.5,743.0 254.6,742.2 255.6,741.0 256.6,740.4 257.6,739.9 258.7,738.9 259.7,737.5 260.7,737.0 261.8,736.9 262.8,737.6 263.8,737.4 264.8,737.9 265.9,736.8 266.9,736.2 267.9,735.8 269.0,736.5 270.0,735.1 271.0,735.2 272.0,736.2 273.1,736.8 274.1,737.9 275.1,737.2 276.2,737.5 277.2,737.3 278.2,735.8 279.2,735.9 280.3,735.8 281.3,737.0 282.3,736.9 283.4,736.1 284.4,735.5 285.4,736.8 286.5,735.8 287.5,735.5 288.5,735.9 289.5,734.9 290.6,734.8 291.6,735.5 292.6,734.7 293.7,734.2 294.7,734.8 295.7,734.2 296.7,735.4 297.8,735.8 298.8,735.8 299.8,736.8 300.9,735.6 301.9,736.8 302.9,736.9 303.9,736.1 305.0,735.9 306.0,734.7 307.0,734.8 308.1,734.7 309.1,735.4 310.1,736.4 311.2,735.8 312.2,735.1 313.2,735.8 314.2,736.4 315.3,735.8 316.3,736.4 317.3,734.8 318.4,734.4 319.4,734.8 320.4,736.4 321.4,737.2 322.5,737.1 323.5,737.9 324.5,737.9 325.6,740.2 326.6,740.0 327.6,741.0 328.6,741.2 329.7,740.2 330.7,740.0 331.7,738.9 332.8,737.8 333.8,738.4 334.8,736.9 335.8,736.9 336.9,736.3 337.9,736.8 338.9,736.4 340.0,735.4 341.0,733.6 342.0,732.5 343.1,731.7 344.1,731.0 345.1,730.7 346.1,730.0 347.2,729.7 348.2,728.3 349.2,727.8 350.3,727.6 351.3,727.5 352.3,727.3 353.3,725.2 354.4,725.6 355.4,724.9 356.4,724.5 357.5,722.4 358.5,722.5 359.7,721.5 361.0,719.4 362.3,719.2 363.6,720.4 365.0,721.1 366.3,721.4" fill="none" stroke="#4fb2a0" stroke-width="1.8" stroke-linejoin="round"/>
<text x="100.8" y="664.3" font-size="8.20" fill="#6a6a6a" font-family="'Liberation Sans','Noto Sans CJK SC',sans-serif" text-anchor="end" font-weight="normal">1000</text>
<text x="100.8" y="676.7" font-size="8.20" fill="#6a6a6a" font-family="'Liberation Sans','Noto Sans CJK SC',sans-serif" text-anchor="end" font-weight="normal">900</text>
<text x="100.8" y="689.1" font-size="8.20" fill="#6a6a6a" font-family="'Liberation Sans','Noto Sans CJK SC',sans-serif" text-anchor="end" font-weight="normal">800</text>
<text x="100.8" y="701.5" font-size="8.20" fill="#6a6a6a" font-family="'Liberation Sans','Noto Sans CJK SC',sans-serif" text-anchor="end" font-weight="normal">700</text>
<text x="100.8" y="713.9" font-size="8.20" fill="#6a6a6a" font-family="'Liberation Sans','Noto Sans CJK SC',sans-serif" text-anchor="end" font-weight="normal">600</text>
<text x="100.8" y="726.2" font-size="8.20" fill="#6a6a6a" font-family="'Liberation Sans','Noto Sans CJK SC',sans-serif" text-anchor="end" font-weight="normal">500</text>
<text x="100.8" y="738.6" font-size="8.20" fill="#6a6a6a" font-family="'Liberation Sans','Noto Sans CJK SC',sans-serif" text-anchor="end" font-weight="normal">400</text>
<text x="100.8" y="751.0" font-size="8.20" fill="#6a6a6a" font-family="'Liberation Sans','Noto Sans CJK SC',sans-serif" text-anchor="end" font-weight="normal">300</text>
<text x="100.8" y="763.4" font-size="8.20" fill="#6a6a6a" font-family="'Liberation Sans','Noto Sans CJK SC',sans-serif" text-anchor="end" font-weight="normal">200</text>
<text x="100.8" y="775.8" font-size="8.20" fill="#6a6a6a" font-family="'Liberation Sans','Noto Sans CJK SC',sans-serif" text-anchor="end" font-weight="normal">100</text>
<text x="100.8" y="788.2" font-size="8.20" fill="#6a6a6a" font-family="'Liberation Sans','Noto Sans CJK SC',sans-serif" text-anchor="end" font-weight="normal">0</text>
<text x="373.5" y="664.7" font-size="8.20" fill="#6a6a6a" font-family="'Liberation Serif','Noto Serif CJK SC',serif" text-anchor="start" font-weight="normal">400</text>
<text x="373.5" y="680.1" font-size="8.20" fill="#6a6a6a" font-family="'Liberation Serif','Noto Serif CJK SC',serif" text-anchor="start" font-weight="normal">350</text>
<text x="373.5" y="695.6" font-size="8.20" fill="#6a6a6a" font-family="'Liberation Serif','Noto Serif CJK SC',serif" text-anchor="start" font-weight="normal">300</text>
<text x="373.5" y="711.0" font-size="8.20" fill="#6a6a6a" font-family="'Liberation Serif','Noto Serif CJK SC',serif" text-anchor="start" font-weight="normal">250</text>
<text x="373.5" y="726.5" font-size="8.20" fill="#6a6a6a" font-family="'Liberation Serif','Noto Serif CJK SC',serif" text-anchor="start" font-weight="normal">200</text>
<text x="373.5" y="741.9" font-size="8.20" fill="#6a6a6a" font-family="'Liberation Serif','Noto Serif CJK SC',serif" text-anchor="start" font-weight="normal">150</text>
<text x="373.5" y="757.3" font-size="8.20" fill="#6a6a6a" font-family="'Liberation Serif','Noto Serif CJK SC',serif" text-anchor="start" font-weight="normal">100</text>
<text x="373.5" y="772.8" font-size="8.20" fill="#6a6a6a" font-family="'Liberation Serif','Noto Serif CJK SC',serif" text-anchor="start" font-weight="normal">50</text>
<text x="373.5" y="788.2" font-size="8.20" fill="#6a6a6a" font-family="'Liberation Serif','Noto Serif CJK SC',serif" text-anchor="start" font-weight="normal">0</text>
<text x="92.0" y="655.5" font-size="8.20" fill="#6a6a6a" font-family="'Noto Serif CJK SC','Liberation Serif',serif" text-anchor="start" font-weight="normal" textLength="16.0" lengthAdjust="spacingAndGlyphs">美元</text>
<rect x="118.7" y="642.6" width="12.7" height="4.8" fill="#ffc000"/>
<text x="133.6" y="648.2" font-size="8.20" fill="#6a6a6a" font-family="'Noto Serif CJK SC','Liberation Serif',serif" text-anchor="start" font-weight="normal" textLength="54.0" lengthAdjust="spacingAndGlyphs">PX-石脑油价差</text>
<line x1="199" y1="645.3" x2="216" y2="645.3" stroke="#1f3553" stroke-width="2"/>
<text x="216.5" y="648.2" font-size="8.20" fill="#6a6a6a" font-family="'Noto Serif CJK SC','Liberation Serif',serif" text-anchor="start" font-weight="normal" textLength="56.5" lengthAdjust="spacingAndGlyphs">PX:CFR中国台湾</text>
<line x1="286" y1="645.3" x2="301" y2="645.3" stroke="#4fb2a0" stroke-width="2"/>
<text x="302.0" y="648.2" font-size="8.20" fill="#6a6a6a" font-family="'Noto Serif CJK SC','Liberation Serif',serif" text-anchor="start" font-weight="normal" textLength="57.4" lengthAdjust="spacingAndGlyphs">石脑油:CFR日本</text>
<text transform="translate(113.0,794.7) rotate(-45)" font-size="8.20" fill="#6a6a6a" font-family="'Liberation Serif','Noto Serif CJK SC',serif" text-anchor="end" textLength="33.0" lengthAdjust="spacingAndGlyphs">19/08/07</text>
<text transform="translate(127.7,794.7) rotate(-45)" font-size="8.20" fill="#6a6a6a" font-family="'Liberation Serif','Noto Serif CJK SC',serif" text-anchor="end" textLength="33.0" lengthAdjust="spacingAndGlyphs">19/09/07</text>
<text transform="translate(142.3,794.7) rotate(-45)" font-size="8.20" fill="#6a6a6a" font-family="'Liberation Serif','Noto Serif CJK SC',serif" text-anchor="end" textLength="33.0" lengthAdjust="spacingAndGlyphs">19/10/07</text>
<text transform="translate(157.0,794.7) rotate(-45)" font-size="8.20" fill="#6a6a6a" font-family="'Liberation Serif','Noto Serif CJK SC',serif" text-anchor="end" textLength="33.0" lengthAdjust="spacingAndGlyphs">19/11/07</text>
<text transform="translate(171.7,794.7) rotate(-45)" font-size="8.20" fill="#6a6a6a" font-family="'Liberation Serif','Noto Serif CJK SC',serif" text-anchor="end" textLength="33.0" lengthAdjust="spacingAndGlyphs">19/12/07</text>
<text transform="translate(186.4,794.7) rotate(-45)" font-size="8.20" fill="#6a6a6a" font-family="'Liberation Serif','Noto Serif CJK SC',serif" text-anchor="end" textLength="33.0" lengthAdjust="spacingAndGlyphs">20/01/07</text>
<text transform="translate(201.1,794.7) rotate(-45)" font-size="8.20" fill="#6a6a6a" font-family="'Liberation Serif','Noto Serif CJK SC',serif" text-anchor="end" textLength="33.0" lengthAdjust="spacingAndGlyphs">20/02/07</text>
<text transform="translate(215.7,794.7) rotate(-45)" font-size="8.20" fill="#6a6a6a" font-family="'Liberation Serif','Noto Serif CJK SC',serif" text-anchor="end" textLength="33.0" lengthAdjust="spacingAndGlyphs">20/03/07</text>
<text transform="translate(230.4,794.7) rotate(-45)" font-size="8.20" fill="#6a6a6a" font-family="'Liberation Serif','Noto Serif CJK SC',serif" text-anchor="end" textLength="33.0" lengthAdjust="spacingAndGlyphs">20/04/07</text>
<text transform="translate(245.1,794.7) rotate(-45)" font-size="8.20" fill="#6a6a6a" font-family="'Liberation Serif','Noto Serif CJK SC',serif" text-anchor="end" textLength="33.0" lengthAdjust="spacingAndGlyphs">20/05/07</text>
<text transform="translate(259.8,794.7) rotate(-45)" font-size="8.20" fill="#6a6a6a" font-family="'Liberation Serif','Noto Serif CJK SC',serif" text-anchor="end" textLength="33.0" lengthAdjust="spacingAndGlyphs">20/06/07</text>
<text transform="translate(274.4,794.7) rotate(-45)" font-size="8.20" fill="#6a6a6a" font-family="'Liberation Serif','Noto Serif CJK SC',serif" text-anchor="end" textLength="33.0" lengthAdjust="spacingAndGlyphs">20/07/07</text>
<text transform="translate(289.1,794.7) rotate(-45)" font-size="8.20" fill="#6a6a6a" font-family="'Liberation Serif','Noto Serif CJK SC',serif" text-anchor="end" textLength="33.0" lengthAdjust="spacingAndGlyphs">20/08/07</text>
<text transform="translate(303.8,794.7) rotate(-45)" font-size="8.20" fill="#6a6a6a" font-family="'Liberation Serif','Noto Serif CJK SC',serif" text-anchor="end" textLength="33.0" lengthAdjust="spacingAndGlyphs">20/09/07</text>
<text transform="translate(318.5,794.7) rotate(-45)" font-size="8.20" fill="#6a6a6a" font-family="'Liberation Serif','Noto Serif CJK SC',serif" text-anchor="end" textLength="33.0" lengthAdjust="spacingAndGlyphs">20/10/07</text>
<text transform="translate(333.1,794.7) rotate(-45)" font-size="8.20" fill="#6a6a6a" font-family="'Liberation Serif','Noto Serif CJK SC',serif" text-anchor="end" textLength="33.0" lengthAdjust="spacingAndGlyphs">20/11/07</text>
<text transform="translate(347.8,794.7) rotate(-45)" font-size="8.20" fill="#6a6a6a" font-family="'Liberation Serif','Noto Serif CJK SC',serif" text-anchor="end" textLength="33.0" lengthAdjust="spacingAndGlyphs">20/12/07</text>
<text transform="translate(362.5,794.7) rotate(-45)" font-size="8.20" fill="#6a6a6a" font-family="'Liberation Serif','Noto Serif CJK SC',serif" text-anchor="end" textLength="33.0" lengthAdjust="spacingAndGlyphs">21/01/07</text>
<line x1="467.3" y1="658.3" x2="709.6" y2="658.3" stroke="#d9d9d9" stroke-width="1"/>
<line x1="467.3" y1="679.6" x2="709.6" y2="679.6" stroke="#d9d9d9" stroke-width="1"/>
<line x1="467.3" y1="701.0" x2="709.6" y2="701.0" stroke="#d9d9d9" stroke-width="1"/>
<line x1="467.3" y1="722.3" x2="709.6" y2="722.3" stroke="#d9d9d9" stroke-width="1"/>
<line x1="467.3" y1="743.7" x2="709.6" y2="743.7" stroke="#d9d9d9" stroke-width="1"/>
<line x1="467.3" y1="765.0" x2="709.6" y2="765.0" stroke="#d9d9d9" stroke-width="1"/>
<line x1="467.3" y1="786.3" x2="709.6" y2="786.3" stroke="#d0d0d0" stroke-width="1"/>
<line x1="467.3" y1="786.3" x2="467.3" y2="789.3" stroke="#d0d0d0" stroke-width="1"/>
<line x1="479.2" y1="786.3" x2="479.2" y2="789.3" stroke="#d0d0d0" stroke-width="1"/>
<line x1="491.2" y1="786.3" x2="491.2" y2="789.3" stroke="#d0d0d0" stroke-width="1"/>
<line x1="503.1" y1="786.3" x2="503.1" y2="789.3" stroke="#d0d0d0" stroke-width="1"/>
<line x1="515.0" y1="786.3" x2="515.0" y2="789.3" stroke="#d0d0d0" stroke-width="1"/>
<line x1="527.0" y1="786.3" x2="527.0" y2="789.3" stroke="#d0d0d0" stroke-width="1"/>
<line x1="538.9" y1="786.3" x2="538.9" y2="789.3" stroke="#d0d0d0" stroke-width="1"/>
<line x1="550.8" y1="786.3" x2="550.8" y2="789.3" stroke="#d0d0d0" stroke-width="1"/>
<line x1="562.7" y1="786.3" x2="562.7" y2="789.3" stroke="#d0d0d0" stroke-width="1"/>
<line x1="574.7" y1="786.3" x2="574.7" y2="789.3" stroke="#d0d0d0" stroke-width="1"/>
<line x1="586.6" y1="786.3" x2="586.6" y2="789.3" stroke="#d0d0d0" stroke-width="1"/>
<line x1="598.5" y1="786.3" x2="598.5" y2="789.3" stroke="#d0d0d0" stroke-width="1"/>
<line x1="610.5" y1="786.3" x2="610.5" y2="789.3" stroke="#d0d0d0" stroke-width="1"/>
<line x1="622.4" y1="786.3" x2="622.4" y2="789.3" stroke="#d0d0d0" stroke-width="1"/>
<line x1="634.3" y1="786.3" x2="634.3" y2="789.3" stroke="#d0d0d0" stroke-width="1"/>
<line x1="646.2" y1="786.3" x2="646.2" y2="789.3" stroke="#d0d0d0" stroke-width="1"/>
<line x1="658.2" y1="786.3" x2="658.2" y2="789.3" stroke="#d0d0d0" stroke-width="1"/>
<line x1="670.1" y1="786.3" x2="670.1" y2="789.3" stroke="#d0d0d0" stroke-width="1"/>
<line x1="682.0" y1="786.3" x2="682.0" y2="789.3" stroke="#d0d0d0" stroke-width="1"/>
<line x1="694.0" y1="786.3" x2="694.0" y2="789.3" stroke="#d0d0d0" stroke-width="1"/>
<line x1="705.9" y1="786.3" x2="705.9" y2="789.3" stroke="#d0d0d0" stroke-width="1"/>
<polyline points="467.3,717.3 469.0,716.3 470.0,716.4 471.0,716.5 472.0,716.3 473.1,715.6 474.1,715.5 475.1,715.3 476.2,715.4 477.2,715.1 478.2,715.3 479.2,714.5 480.3,713.2 481.3,712.1 482.3,711.2 483.4,710.7 484.4,709.6 485.4,710.1 486.5,710.0 487.5,709.4 488.5,709.1 489.5,707.9 490.6,708.2 491.6,707.0 492.6,706.9 493.7,705.6 494.7,705.0 495.7,703.7 496.7,703.6 497.8,702.9 498.8,701.9 499.8,701.6 500.9,701.9 501.9,701.4 502.9,700.5 503.9,700.9 505.0,701.4 506.0,702.2 507.0,702.9 508.1,702.4 509.1,703.8 510.1,703.9 511.2,702.5 512.2,703.0 513.2,701.9 514.2,701.9 515.3,700.9 516.3,700.4 517.3,698.8 518.4,698.7 519.4,697.8 520.4,697.2 521.4,697.9 522.5,696.7 523.5,696.0 524.5,697.1 525.6,696.3 526.6,697.1 527.6,696.4 528.6,696.4 529.7,695.7 530.7,693.6 531.7,692.6 532.8,691.4 533.8,688.5 534.8,686.4 535.8,684.4 536.9,681.1 537.9,676.2 538.9,674.3 540.0,671.0 541.0,672.5 542.0,675.1 543.1,676.2 544.1,676.2 545.1,676.9 546.1,675.4 547.2,676.2 548.2,679.5 549.2,683.4 550.3,685.5 551.3,686.2 552.3,688.5 553.3,690.8 554.4,691.6 555.4,693.3 556.4,695.7 557.5,695.9 558.5,694.4 559.5,694.7 560.5,696.4 561.6,698.9 562.6,699.8 563.6,699.0 564.7,698.7 565.7,698.8 566.7,698.1 567.7,697.1 568.8,696.7 569.8,695.7 570.8,695.7 571.9,695.4 572.9,695.7 573.9,696.5 575.0,696.0 576.0,696.4 577.0,695.7 578.0,695.5 579.1,696.9 580.1,696.7 581.1,695.7 582.2,696.1 583.2,695.7 584.2,696.2 585.2,696.0 586.3,697.2 587.3,696.7 588.3,698.2 589.4,699.6 590.4,700.9 591.4,703.6 592.4,704.3 593.5,707.0 595.0,708.1 596.0,706.2 597.1,702.8 598.1,699.8 599.1,700.3 600.1,701.7 601.2,701.9 602.2,703.5 603.2,706.0 604.3,709.5 605.3,711.2 606.3,711.8 607.3,712.0 608.4,712.8 609.4,714.1 610.4,714.3 611.5,715.3 612.5,714.8 613.5,716.0 614.6,715.7 615.6,714.9 616.6,716.3 617.6,715.2 618.7,715.7 619.7,716.5 620.7,717.6 621.8,717.3 622.8,718.0 623.8,718.6 624.8,718.5 625.9,719.4 626.9,718.6 627.9,718.9 629.0,719.2 630.0,720.0 631.0,720.0 632.0,719.4 633.1,719.3 634.1,719.0 635.1,720.0 636.2,718.9 637.2,719.8 638.2,720.5 639.2,722.5 640.3,723.5 641.3,724.2 642.3,726.6 643.4,725.7 644.4,726.3 645.4,726.6 646.5,727.6 647.5,729.8 648.5,731.7 649.5,733.6 650.6,736.7 651.6,738.9 652.6,740.1 653.7,740.5 654.7,742.0 655.7,741.7 656.7,741.0 657.8,740.6 658.8,739.6 659.8,740.0 660.9,740.1 661.9,738.1 662.9,737.9 663.9,736.9 665.0,736.5 666.0,736.9 667.0,737.1 668.1,737.5 669.1,737.4 670.1,736.7 671.2,736.9 672.2,736.6 673.2,736.2 674.2,737.5 675.3,737.5 676.3,737.5 677.3,737.0 678.4,737.3 679.4,736.9 680.4,736.9 681.4,737.9 682.5,737.6 683.5,737.3 684.5,737.2 685.6,738.8 686.6,737.7 687.6,738.9 688.6,738.9 689.7,738.6 690.7,738.2 691.7,738.5 692.8,738.7 693.8,740.9 694.8,741.4 695.8,739.7 696.9,739.8 697.9,738.9 698.9,738.7 700.0,736.2 701.0,735.8 702.0,735.1 703.1,735.6 704.1,735.2 705.1,735.0 706.1,734.8 707.2,726.6 708.4,726.8 709.6,726.6" fill="none" stroke="#1f3553" stroke-width="1.9" stroke-linejoin="round"/>
<polyline points="467.3,719.4 468.7,719.9 470.0,719.4 471.0,718.9 472.0,719.3 473.1,719.8 474.1,719.8 475.1,719.8 476.2,721.0 477.2,721.2 478.2,720.4 479.2,719.4 480.3,718.7 481.3,717.3 482.3,715.7 483.4,716.6 484.4,715.3 485.4,715.2 486.5,714.2 487.5,713.5 488.5,713.3 489.5,712.2 490.6,712.4 491.6,712.4 492.6,713.2 493.7,712.8 494.7,713.4 495.7,714.2 496.7,712.7 497.8,712.6 498.8,712.2 499.8,711.9 500.9,711.0 501.9,710.5 502.9,709.1 503.9,711.5 505.0,713.2 506.0,713.8 507.0,715.4 508.1,716.3 509.1,716.2 510.1,716.8 511.2,716.3 512.2,716.0 513.2,715.2 514.2,715.3 515.3,714.5 516.3,714.0 517.3,712.2 518.4,712.1 519.4,713.8 520.4,713.6 521.4,712.6 522.5,712.9 523.5,713.2 524.5,712.4 525.6,713.0 526.6,712.2 527.6,712.1 528.6,710.8 529.7,709.5 530.7,708.5 531.7,708.1 532.8,702.1 533.8,694.7 534.8,688.2 535.8,682.3 536.9,675.2 537.9,669.0 538.9,669.2 540.0,667.9 541.0,672.3 542.0,676.2 543.1,687.5 544.1,687.1 545.1,686.4 546.1,685.4 547.2,685.8 548.2,684.4 549.2,688.5 550.3,692.6 551.3,695.3 552.3,697.1 553.3,698.8 554.4,700.8 555.4,701.4 556.4,702.9 557.5,702.6 558.5,701.7 559.5,700.9 560.5,702.6 561.6,704.5 562.6,707.0 563.6,706.2 564.7,704.2 565.7,704.7 566.7,702.9 567.7,701.8 568.8,701.0 569.8,700.7 570.8,700.9 571.9,702.0 572.9,701.3 573.9,701.9 575.0,700.9 576.0,700.4 577.0,700.9 578.0,700.4 579.1,701.9 580.1,701.9 581.1,701.8 582.2,701.6 583.2,700.9 584.2,701.5 585.2,700.5 586.3,701.6 587.3,701.4 588.3,701.9 589.4,706.2 590.4,710.0 591.4,713.2 592.4,714.6 593.5,713.8 594.5,715.3 595.0,715.3 596.0,711.1 597.1,706.4 598.1,700.9 599.1,702.7 600.1,702.2 601.2,703.9 602.2,708.6 603.2,713.5 604.3,719.4 605.3,719.4 606.3,721.0 607.3,721.5 608.4,721.3 609.4,720.8 610.4,720.4 611.5,721.3 612.5,721.2 613.5,720.8 614.6,721.4 615.6,721.1 616.6,721.4 617.6,722.5 618.7,723.4 619.7,723.0 620.7,723.7 621.8,724.5 622.8,724.5 623.8,724.0 624.8,724.6 625.9,725.1 626.9,724.5 627.9,725.0 629.0,724.2 630.0,723.8 631.0,723.9 632.0,724.8 633.1,724.0 634.1,724.7 635.1,724.1 636.2,724.8 637.2,724.2 638.2,725.6 639.2,727.1 640.3,728.9 641.3,730.7 642.3,731.4 643.4,730.8 644.4,731.3 645.4,733.2 646.5,734.4 647.5,735.8 648.5,737.4 649.5,740.6 650.6,742.0 651.6,743.3 652.6,746.1 653.7,747.1 654.7,746.2 655.7,747.2 656.7,744.7 657.8,744.1 658.8,742.5 659.8,742.5 660.9,741.0 661.9,741.7 662.9,739.8 663.9,740.5 665.0,740.4 666.0,740.5 667.0,741.2 668.1,740.3 669.1,741.0 670.1,741.1 671.2,740.9 672.2,741.9 673.2,741.0 674.2,742.3 675.3,741.6 676.3,741.1 677.3,740.8 678.4,741.5 679.4,741.0 680.4,741.2 681.4,740.8 682.5,742.0 683.5,742.0 684.5,741.8 685.6,743.6 686.6,743.9 687.6,744.1 688.6,744.5 689.7,744.1 690.7,743.5 691.7,743.7 692.8,744.7 693.8,745.8 694.8,747.2 695.8,747.2 696.9,745.1 697.9,745.1 698.9,745.0 700.0,742.7 701.0,742.3 702.0,742.0 703.1,740.9 704.1,741.4 705.1,740.0 706.1,739.3 707.3,738.4 708.5,738.7 709.6,737.3" fill="none" stroke="#4fb2a0" stroke-width="1.9" stroke-linejoin="round"/>
<text x="456.0" y="661.3" font-size="8.20" fill="#6a6a6a" font-family="'Liberation Sans','Noto Sans CJK SC',sans-serif" text-anchor="end" font-weight="normal">1200</text>
<text x="456.0" y="682.6" font-size="8.20" fill="#6a6a6a" font-family="'Liberation Sans','Noto Sans CJK SC',sans-serif" text-anchor="end" font-weight="normal">1000</text>
<text x="456.0" y="704.0" font-size="8.20" fill="#6a6a6a" font-family="'Liberation Sans','Noto Sans CJK SC',sans-serif" text-anchor="end" font-weight="normal">800</text>
<text x="456.0" y="725.3" font-size="8.20" fill="#6a6a6a" font-family="'Liberation Sans','Noto Sans CJK SC',sans-serif" text-anchor="end" font-weight="normal">600</text>
<text x="456.0" y="746.7" font-size="8.20" fill="#6a6a6a" font-family="'Liberation Sans','Noto Sans CJK SC',sans-serif" text-anchor="end" font-weight="normal">400</text>
<text x="456.0" y="768.0" font-size="8.20" fill="#6a6a6a" font-family="'Liberation Sans','Noto Sans CJK SC',sans-serif" text-anchor="end" font-weight="normal">200</text>
<text x="456.0" y="789.4" font-size="8.20" fill="#6a6a6a" font-family="'Liberation Sans','Noto Sans CJK SC',sans-serif" text-anchor="end" font-weight="normal">0</text>
<text x="717.5" y="661.3" font-size="8.20" fill="#6a6a6a" font-family="'Liberation Serif','Noto Serif CJK SC',serif" text-anchor="start" font-weight="normal">10000</text>
<text x="717.5" y="674.1" font-size="8.20" fill="#6a6a6a" font-family="'Liberation Serif','Noto Serif CJK SC',serif" text-anchor="start" font-weight="normal">9000</text>
<text x="717.5" y="686.9" font-size="8.20" fill="#6a6a6a" font-family="'Liberation Serif','Noto Serif CJK SC',serif" text-anchor="start" font-weight="normal">8000</text>
<text x="717.5" y="699.8" font-size="8.20" fill="#6a6a6a" font-family="'Liberation Serif','Noto Serif CJK SC',serif" text-anchor="start" font-weight="normal">7000</text>
<text x="717.5" y="712.6" font-size="8.20" fill="#6a6a6a" font-family="'Liberation Serif','Noto Serif CJK SC',serif" text-anchor="start" font-weight="normal">6000</text>
<text x="717.5" y="725.4" font-size="8.20" fill="#6a6a6a" font-family="'Liberation Serif','Noto Serif CJK SC',serif" text-anchor="start" font-weight="normal">5000</text>
<text x="717.5" y="738.2" font-size="8.20" fill="#6a6a6a" font-family="'Liberation Serif','Noto Serif CJK SC',serif" text-anchor="start" font-weight="normal">4000</text>
<text x="717.5" y="751.0" font-size="8.20" fill="#6a6a6a" font-family="'Liberation Serif','Noto Serif CJK SC',serif" text-anchor="start" font-weight="normal">3000</text>
<text x="717.5" y="763.9" font-size="8.20" fill="#6a6a6a" font-family="'Liberation Serif','Noto Serif CJK SC',serif" text-anchor="start" font-weight="normal">2000</text>
<text x="717.5" y="776.7" font-size="8.20" fill="#6a6a6a" font-family="'Liberation Serif','Noto Serif CJK SC',serif" text-anchor="start" font-weight="normal">1000</text>
<text x="717.5" y="789.5" font-size="8.20" fill="#6a6a6a" font-family="'Liberation Serif','Noto Serif CJK SC',serif" text-anchor="start" font-weight="normal">0</text>
<text x="443.0" y="653.0" font-size="8.20" fill="#6a6a6a" font-family="'Noto Serif CJK SC','Liberation Serif',serif" text-anchor="start" font-weight="normal" textLength="16.0" lengthAdjust="spacingAndGlyphs">美元</text>
<text x="729.0" y="654.5" font-size="8.20" fill="#6a6a6a" font-family="'Noto Serif CJK SC','Liberation Serif',serif" text-anchor="start" font-weight="normal">元</text>
<line x1="552.3" y1="644.7" x2="569.8" y2="644.7" stroke="#1f3553" stroke-width="2"/>
<text x="570.8" y="647.6" font-size="8.20" fill="#6a6a6a" font-family="'Noto Serif CJK SC','Liberation Serif',serif" text-anchor="start" font-weight="normal" textLength="17.5" lengthAdjust="spacingAndGlyphs">外盘</text>
<line x1="595" y1="644.7" x2="612.5" y2="644.7" stroke="#4fb2a0" stroke-width="2"/>
<text x="614.5" y="647.6" font-size="8.20" fill="#6a6a6a" font-family="'Noto Serif CJK SC','Liberation Serif',serif" text-anchor="start" font-weight="normal" textLength="16.5" lengthAdjust="spacingAndGlyphs">内盘</text>
<text transform="translate(470.3,789.3) rotate(-90)" font-size="8.20" fill="#6a6a6a" font-family="'Liberation Serif','Noto Serif CJK SC',serif" text-anchor="end" textLength="30.0" lengthAdjust="spacingAndGlyphs">17/08/28</text>
<text transform="translate(482.2,789.3) rotate(-90)" font-size="8.20" fill="#6a6a6a" font-family="'Liberation Serif','Noto Serif CJK SC',serif" text-anchor="end" textLength="30.0" lengthAdjust="spacingAndGlyphs">17/10/28</text>
<text transform="translate(494.2,789.3) rotate(-90)" font-size="8.20" fill="#6a6a6a" font-family="'Liberation Serif','Noto Serif CJK SC',serif" text-anchor="end" textLength="30.0" lengthAdjust="spacingAndGlyphs">17/12/28</text>
<text transform="translate(506.1,789.3) rotate(-90)" font-size="8.20" fill="#6a6a6a" font-family="'Liberation Serif','Noto Serif CJK SC',serif" text-anchor="end" textLength="30.0" lengthAdjust="spacingAndGlyphs">18/02/28</text>
<text transform="translate(518.0,789.3) rotate(-90)" font-size="8.20" fill="#6a6a6a" font-family="'Liberation Serif','Noto Serif CJK SC',serif" text-anchor="end" textLength="30.0" lengthAdjust="spacingAndGlyphs">18/04/30</text>
<text transform="translate(530.0,789.3) rotate(-90)" font-size="8.20" fill="#6a6a6a" font-family="'Liberation Serif','Noto Serif CJK SC',serif" text-anchor="end" textLength="30.0" lengthAdjust="spacingAndGlyphs">18/06/30</text>
<text transform="translate(541.9,789.3) rotate(-90)" font-size="8.20" fill="#6a6a6a" font-family="'Liberation Serif','Noto Serif CJK SC',serif" text-anchor="end" textLength="30.0" lengthAdjust="spacingAndGlyphs">18/08/31</text>
<text transform="translate(553.8,789.3) rotate(-90)" font-size="8.20" fill="#6a6a6a" font-family="'Liberation Serif','Noto Serif CJK SC',serif" text-anchor="end" textLength="30.0" lengthAdjust="spacingAndGlyphs">18/10/31</text>
<text transform="translate(565.7,789.3) rotate(-90)" font-size="8.20" fill="#6a6a6a" font-family="'Liberation Serif','Noto Serif CJK SC',serif" text-anchor="end" textLength="30.0" lengthAdjust="spacingAndGlyphs">18/12/31</text>
<text transform="translate(577.7,789.3) rotate(-90)" font-size="8.20" fill="#6a6a6a" font-family="'Liberation Serif','Noto Serif CJK SC',serif" text-anchor="end" textLength="30.0" lengthAdjust="spacingAndGlyphs">19/02/28</text>
<text transform="translate(589.6,789.3) rotate(-90)" font-size="8.20" fill="#6a6a6a" font-family="'Liberation Serif','Noto Serif CJK SC',serif" text-anchor="end" textLength="30.0" lengthAdjust="spacingAndGlyphs">19/04/30</text>
<text transform="translate(601.5,789.3) rotate(-90)" font-size="8.20" fill="#6a6a6a" font-family="'Liberation Serif','Noto Serif CJK SC',serif" text-anchor="end" textLength="30.0" lengthAdjust="spacingAndGlyphs">19/06/30</text>
<text transform="translate(613.5,789.3) rotate(-90)" font-size="8.20" fill="#6a6a6a" font-family="'Liberation Serif','Noto Serif CJK SC',serif" text-anchor="end" textLength="30.0" lengthAdjust="spacingAndGlyphs">19/08/31</text>
<text transform="translate(625.4,789.3) rotate(-90)" font-size="8.20" fill="#6a6a6a" font-family="'Liberation Serif','Noto Serif CJK SC',serif" text-anchor="end" textLength="30.0" lengthAdjust="spacingAndGlyphs">19/10/31</text>
<text transform="translate(637.3,789.3) rotate(-90)" font-size="8.20" fill="#6a6a6a" font-family="'Liberation Serif','Noto Serif CJK SC',serif" text-anchor="end" textLength="30.0" lengthAdjust="spacingAndGlyphs">19/12/31</text>
<text transform="translate(649.2,789.3) rotate(-90)" font-size="8.20" fill="#6a6a6a" font-family="'Liberation Serif','Noto Serif CJK SC',serif" text-anchor="end" textLength="30.0" lengthAdjust="spacingAndGlyphs">20/02/29</text>
<text transform="translate(661.2,789.3) rotate(-90)" font-size="8.20" fill="#6a6a6a" font-family="'Liberation Serif','Noto Serif CJK SC',serif" text-anchor="end" textLength="30.0" lengthAdjust="spacingAndGlyphs">20/04/30</text>
<text transform="translate(673.1,789.3) rotate(-90)" font-size="8.20" fill="#6a6a6a" font-family="'Liberation Serif','Noto Serif CJK SC',serif" text-anchor="end" textLength="30.0" lengthAdjust="spacingAndGlyphs">20/06/30</text>
<text transform="translate(685.0,789.3) rotate(-90)" font-size="8.20" fill="#6a6a6a" font-family="'Liberation Serif','Noto Serif CJK SC',serif" text-anchor="end" textLength="30.0" lengthAdjust="spacingAndGlyphs">20/08/31</text>
<text transform="translate(697.0,789.3) rotate(-90)" font-size="8.20" fill="#6a6a6a" font-family="'Liberation Serif','Noto Serif CJK SC',serif" text-anchor="end" textLength="30.0" lengthAdjust="spacingAndGlyphs">20/10/31</text>
<text transform="translate(708.9,789.3) rotate(-90)" font-size="8.20" fill="#6a6a6a" font-family="'Liberation Serif','Noto Serif CJK SC',serif" text-anchor="end" textLength="30.0" lengthAdjust="spacingAndGlyphs">20/12/31</text>
<line x1="115.5" y1="906.0" x2="380.7" y2="906.0" stroke="#d9d9d9" stroke-width="1"/>
<line x1="115.5" y1="923.0" x2="380.7" y2="923.0" stroke="#d9d9d9" stroke-width="1"/>
<line x1="115.5" y1="939.9" x2="380.7" y2="939.9" stroke="#d9d9d9" stroke-width="1"/>
<line x1="115.5" y1="956.9" x2="380.7" y2="956.9" stroke="#d9d9d9" stroke-width="1"/>
<line x1="115.5" y1="973.9" x2="380.7" y2="973.9" stroke="#d9d9d9" stroke-width="1"/>
<line x1="115.5" y1="990.9" x2="380.7" y2="990.9" stroke="#d9d9d9" stroke-width="1"/>
<line x1="115.5" y1="1007.8" x2="380.7" y2="1007.8" stroke="#d9d9d9" stroke-width="1"/>
<line x1="115.5" y1="1024.8" x2="380.7" y2="1024.8" stroke="#d9d9d9" stroke-width="1"/>
<line x1="115.5" y1="1041.8" x2="380.7" y2="1041.8" stroke="#d0d0d0" stroke-width="1"/>
<line x1="115.5" y1="1041.8" x2="115.5" y2="1044.8" stroke="#d0d0d0" stroke-width="1"/>
<line x1="131.1" y1="1041.8" x2="131.1" y2="1044.8" stroke="#d0d0d0" stroke-width="1"/>
<line x1="146.7" y1="1041.8" x2="146.7" y2="1044.8" stroke="#d0d0d0" stroke-width="1"/>
<line x1="162.3" y1="1041.8" x2="162.3" y2="1044.8" stroke="#d0d0d0" stroke-width="1"/>
<line x1="177.9" y1="1041.8" x2="177.9" y2="1044.8" stroke="#d0d0d0" stroke-width="1"/>
<line x1="193.5" y1="1041.8" x2="193.5" y2="1044.8" stroke="#d0d0d0" stroke-width="1"/>
<line x1="209.1" y1="1041.8" x2="209.1" y2="1044.8" stroke="#d0d0d0" stroke-width="1"/>
<line x1="224.7" y1="1041.8" x2="224.7" y2="1044.8" stroke="#d0d0d0" stroke-width="1"/>
<line x1="240.3" y1="1041.8" x2="240.3" y2="1044.8" stroke="#d0d0d0" stroke-width="1"/>
<line x1="255.9" y1="1041.8" x2="255.9" y2="1044.8" stroke="#d0d0d0" stroke-width="1"/>
<line x1="271.5" y1="1041.8" x2="271.5" y2="1044.8" stroke="#d0d0d0" stroke-width="1"/>
<line x1="287.1" y1="1041.8" x2="287.1" y2="1044.8" stroke="#d0d0d0" stroke-width="1"/>
<line x1="302.7" y1="1041.8" x2="302.7" y2="1044.8" stroke="#d0d0d0" stroke-width="1"/>
<line x1="318.3" y1="1041.8" x2="318.3" y2="1044.8" stroke="#d0d0d0" stroke-width="1"/>
<line x1="333.9" y1="1041.8" x2="333.9" y2="1044.8" stroke="#d0d0d0" stroke-width="1"/>
<line x1="349.5" y1="1041.8" x2="349.5" y2="1044.8" stroke="#d0d0d0" stroke-width="1"/>
<line x1="365.1" y1="1041.8" x2="365.1" y2="1044.8" stroke="#d0d0d0" stroke-width="1"/>
<line x1="380.7" y1="1041.8" x2="380.7" y2="1044.8" stroke="#d0d0d0" stroke-width="1"/>
<polyline points="115.5,1030.1 119.2,1032.2 123.4,1034.2 124.4,1036.3 126.0,1033.2 126.9,1036.3 128.9,1037.3 130.2,1041.8 132.6,1041.4 136.7,1040.4 140.9,1040.4 145.0,1041.4 148.1,1040.4 152.2,1040.4 153.6,1035.2 155.3,1034.2 158.4,1035.2 160.4,1036.9 163.5,1037.7 167.6,1037.9 171.7,1037.9 175.8,1038.3 178.9,1036.9 182.0,1036.3 186.1,1033.2 190.3,1030.1 193.3,1030.7 197.5,1031.1 201.6,1031.5 205.7,1031.1 207.7,1027.0 209.8,1021.9 211.2,1012.6 213.3,1008.5 216.0,1002.3 218.0,998.2 221.1,997.2 224.2,995.1 228.3,994.1 231.4,993.5 234.5,991.6 235.0,992.0 239.1,988.9 242.2,983.8 244.3,978.6 247.3,976.6 249.4,971.4 251.5,965.3 253.5,962.2 257.6,962.8 260.7,963.2 261.8,965.7 265.9,964.9 270.0,965.9 274.1,966.3 278.2,966.9 281.3,967.3 282.3,970.4 286.5,973.5 290.6,975.6 293.0,979.7 295.7,986.9 298.8,988.9 302.9,991.0 306.0,994.1 308.1,1000.3 310.1,1012.6 312.2,1025.0 314.2,1031.1 315.7,1040.4 317.3,1041.4 318.4,1037.3 319.8,1029.1 321.4,1021.9 324.5,1018.8 327.6,1016.7 329.7,1010.5 331.7,1004.4 334.8,999.2 337.9,994.1 340.0,991.0 342.0,983.8 344.1,977.6 347.2,971.4 350.3,965.3 353.3,959.1 356.4,951.9 358.5,944.7 361.6,940.6 364.7,936.5 367.7,931.3 370.8,927.2 373.9,923.1 377.0,919.0 380.7,917.3" fill="none" stroke="#f0c03a" stroke-width="2.2" stroke-linejoin="round"/>
<text x="106.0" y="908.6" font-size="7.40" fill="#6a6a6a" font-family="'Liberation Serif','Noto Serif CJK SC',serif" text-anchor="end" font-weight="normal">400000</text>
<text x="106.0" y="925.6" font-size="7.40" fill="#6a6a6a" font-family="'Liberation Serif','Noto Serif CJK SC',serif" text-anchor="end" font-weight="normal">350000</text>
<text x="106.0" y="942.5" font-size="7.40" fill="#6a6a6a" font-family="'Liberation Serif','Noto Serif CJK SC',serif" text-anchor="end" font-weight="normal">300000</text>
<text x="106.0" y="959.5" font-size="7.40" fill="#6a6a6a" font-family="'Liberation Serif','Noto Serif CJK SC',serif" text-anchor="end" font-weight="normal">250000</text>
<text x="106.0" y="976.5" font-size="7.40" fill="#6a6a6a" font-family="'Liberation Serif','Noto Serif CJK SC',serif" text-anchor="end" font-weight="normal">200000</text>
<text x="106.0" y="993.5" font-size="7.40" fill="#6a6a6a" font-family="'Liberation Serif','Noto Serif CJK SC',serif" text-anchor="end" font-weight="normal">150000</text>
<text x="106.0" y="1010.4" font-size="7.40" fill="#6a6a6a" font-family="'Liberation Serif','Noto Serif CJK SC',serif" text-anchor="end" font-weight="normal">100000</text>
<text x="106.0" y="1027.4" font-size="7.40" fill="#6a6a6a" font-family="'Liberation Serif','Noto Serif CJK SC',serif" text-anchor="end" font-weight="normal">50000</text>
<text x="106.0" y="1044.4" font-size="7.40" fill="#6a6a6a" font-family="'Liberation Serif','Noto Serif CJK SC',serif" text-anchor="end" font-weight="normal">0</text>
<text x="86.0" y="901.5" font-size="7.40" fill="#6a6a6a" font-family="'Noto Serif CJK SC','Liberation Serif',serif" text-anchor="start" font-weight="normal">张</text>
<line x1="206.4" y1="893.6" x2="222.5" y2="893.6" stroke="#f0c03a" stroke-width="2"/>
<text x="223.4" y="896.3" font-size="7.40" fill="#6a6a6a" font-family="'Noto Serif CJK SC','Liberation Serif',serif" text-anchor="start" font-weight="normal" textLength="45.6" lengthAdjust="spacingAndGlyphs">仓单数量:PTA</text>
<text transform="translate(118.0,1049.8) rotate(-45)" font-size="7.40" fill="#6a6a6a" font-family="'Liberation Serif','Noto Serif CJK SC',serif" text-anchor="end" textLength="30.0" lengthAdjust="spacingAndGlyphs">19/08/22</text>
<text transform="translate(133.6,1049.8) rotate(-45)" font-size="7.40" fill="#6a6a6a" font-family="'Liberation Serif','Noto Serif CJK SC',serif" text-anchor="end" textLength="30.0" lengthAdjust="spacingAndGlyphs">19/09/22</text>
<text transform="translate(149.2,1049.8) rotate(-45)" font-size="7.40" fill="#6a6a6a" font-family="'Liberation Serif','Noto Serif CJK SC',serif" text-anchor="end" textLength="30.0" lengthAdjust="spacingAndGlyphs">19/10/22</text>
<text transform="translate(164.8,1049.8) rotate(-45)" font-size="7.40" fill="#6a6a6a" font-family="'Liberation Serif','Noto Serif CJK SC',serif" text-anchor="end" textLength="30.0" lengthAdjust="spacingAndGlyphs">19/11/22</text>
<text transform="translate(180.4,1049.8) rotate(-45)" font-size="7.40" fill="#6a6a6a" font-family="'Liberation Serif','Noto Serif CJK SC',serif" text-anchor="end" textLength="30.0" lengthAdjust="spacingAndGlyphs">19/12/22</text>
<text transform="translate(196.0,1049.8) rotate(-45)" font-size="7.40" fill="#6a6a6a" font-family="'Liberation Serif','Noto Serif CJK SC',serif" text-anchor="end" textLength="30.0" lengthAdjust="spacingAndGlyphs">20/01/22</text>
<text transform="translate(211.6,1049.8) rotate(-45)" font-size="7.40" fill="#6a6a6a" font-family="'Liberation Serif','Noto Serif CJK SC',serif" text-anchor="end" textLength="30.0" lengthAdjust="spacingAndGlyphs">20/02/22</text>
<text transform="translate(227.2,1049.8) rotate(-45)" font-size="7.40" fill="#6a6a6a" font-family="'Liberation Serif','Noto Serif CJK SC',serif" text-anchor="end" textLength="30.0" lengthAdjust="spacingAndGlyphs">20/03/22</text>
<text transform="translate(242.8,1049.8) rotate(-45)" font-size="7.40" fill="#6a6a6a" font-family="'Liberation Serif','Noto Serif CJK SC',serif" text-anchor="end" textLength="30.0" lengthAdjust="spacingAndGlyphs">20/04/22</text>
<text transform="translate(258.4,1049.8) rotate(-45)" font-size="7.40" fill="#6a6a6a" font-family="'Liberation Serif','Noto Serif CJK SC',serif" text-anchor="end" textLength="30.0" lengthAdjust="spacingAndGlyphs">20/05/22</text>
<text transform="translate(274.0,1049.8) rotate(-45)" font-size="7.40" fill="#6a6a6a" font-family="'Liberation Serif','Noto Serif CJK SC',serif" text-anchor="end" textLength="30.0" lengthAdjust="spacingAndGlyphs">20/06/22</text>
<text transform="translate(289.6,1049.8) rotate(-45)" font-size="7.40" fill="#6a6a6a" font-family="'Liberation Serif','Noto Serif CJK SC',serif" text-anchor="end" textLength="30.0" lengthAdjust="spacingAndGlyphs">20/07/22</text>
<text transform="translate(305.2,1049.8) rotate(-45)" font-size="7.40" fill="#6a6a6a" font-family="'Liberation Serif','Noto Serif CJK SC',serif" text-anchor="end" textLength="30.0" lengthAdjust="spacingAndGlyphs">20/08/22</text>
<text transform="translate(320.8,1049.8) rotate(-45)" font-size="7.40" fill="#6a6a6a" font-family="'Liberation Serif','Noto Serif CJK SC',serif" text-anchor="end" textLength="30.0" lengthAdjust="spacingAndGlyphs">20/09/22</text>
<text transform="translate(336.4,1049.8) rotate(-45)" font-size="7.40" fill="#6a6a6a" font-family="'Liberation Serif','Noto Serif CJK SC',serif" text-anchor="end" textLength="30.0" lengthAdjust="spacingAndGlyphs">20/10/22</text>
<text transform="translate(352.0,1049.8) rotate(-45)" font-size="7.40" fill="#6a6a6a" font-family="'Liberation Serif','Noto Serif CJK SC',serif" text-anchor="end" textLength="30.0" lengthAdjust="spacingAndGlyphs">20/11/22</text>
<text transform="translate(367.6,1049.8) rotate(-45)" font-size="7.40" fill="#6a6a6a" font-family="'Liberation Serif','Noto Serif CJK SC',serif" text-anchor="end" textLength="30.0" lengthAdjust="spacingAndGlyphs">20/12/22</text>
<line x1="461.3" y1="909.7" x2="735.1" y2="909.7" stroke="#d9d9d9" stroke-width="1"/>
<line x1="461.3" y1="922.5" x2="735.1" y2="922.5" stroke="#d9d9d9" stroke-width="1"/>
<line x1="461.3" y1="935.2" x2="735.1" y2="935.2" stroke="#d9d9d9" stroke-width="1"/>
<line x1="461.3" y1="948.0" x2="735.1" y2="948.0" stroke="#d9d9d9" stroke-width="1"/>
<line x1="461.3" y1="960.7" x2="735.1" y2="960.7" stroke="#d9d9d9" stroke-width="1"/>
<line x1="461.3" y1="973.5" x2="735.1" y2="973.5" stroke="#d9d9d9" stroke-width="1"/>
<line x1="461.3" y1="986.3" x2="735.1" y2="986.3" stroke="#d9d9d9" stroke-width="1"/>
<line x1="461.3" y1="999.0" x2="735.1" y2="999.0" stroke="#d9d9d9" stroke-width="1"/>
<line x1="461.3" y1="1011.8" x2="735.1" y2="1011.8" stroke="#d9d9d9" stroke-width="1"/>
<line x1="461.3" y1="1024.5" x2="735.1" y2="1024.5" stroke="#d9d9d9" stroke-width="1"/>
<line x1="461.3" y1="1037.3" x2="735.1" y2="1037.3" stroke="#d0d0d0" stroke-width="1"/>
<line x1="461.3" y1="1037.3" x2="461.3" y2="1040.3" stroke="#d0d0d0" stroke-width="1"/>
<line x1="474.2" y1="1037.3" x2="474.2" y2="1040.3" stroke="#d0d0d0" stroke-width="1"/>
<line x1="487.2" y1="1037.3" x2="487.2" y2="1040.3" stroke="#d0d0d0" stroke-width="1"/>
<line x1="500.1" y1="1037.3" x2="500.1" y2="1040.3" stroke="#d0d0d0" stroke-width="1"/>
<line x1="513.0" y1="1037.3" x2="513.0" y2="1040.3" stroke="#d0d0d0" stroke-width="1"/>
<line x1="526.0" y1="1037.3" x2="526.0" y2="1040.3" stroke="#d0d0d0" stroke-width="1"/>
<line x1="538.9" y1="1037.3" x2="538.9" y2="1040.3" stroke="#d0d0d0" stroke-width="1"/>
<line x1="551.8" y1="1037.3" x2="551.8" y2="1040.3" stroke="#d0d0d0" stroke-width="1"/>
<line x1="564.7" y1="1037.3" x2="564.7" y2="1040.3" stroke="#d0d0d0" stroke-width="1"/>
<line x1="577.7" y1="1037.3" x2="577.7" y2="1040.3" stroke="#d0d0d0" stroke-width="1"/>
<line x1="590.6" y1="1037.3" x2="590.6" y2="1040.3" stroke="#d0d0d0" stroke-width="1"/>
<line x1="603.5" y1="1037.3" x2="603.5" y2="1040.3" stroke="#d0d0d0" stroke-width="1"/>
<line x1="616.5" y1="1037.3" x2="616.5" y2="1040.3" stroke="#d0d0d0" stroke-width="1"/>
<line x1="629.4" y1="1037.3" x2="629.4" y2="1040.3" stroke="#d0d0d0" stroke-width="1"/>
<line x1="642.3" y1="1037.3" x2="642.3" y2="1040.3" stroke="#d0d0d0" stroke-width="1"/>
<line x1="655.2" y1="1037.3" x2="655.2" y2="1040.3" stroke="#d0d0d0" stroke-width="1"/>
<line x1="668.2" y1="1037.3" x2="668.2" y2="1040.3" stroke="#d0d0d0" stroke-width="1"/>
<line x1="681.1" y1="1037.3" x2="681.1" y2="1040.3" stroke="#d0d0d0" stroke-width="1"/>
<line x1="694.0" y1="1037.3" x2="694.0" y2="1040.3" stroke="#d0d0d0" stroke-width="1"/>
<line x1="707.0" y1="1037.3" x2="707.0" y2="1040.3" stroke="#d0d0d0" stroke-width="1"/>
<line x1="719.9" y1="1037.3" x2="719.9" y2="1040.3" stroke="#d0d0d0" stroke-width="1"/>
<line x1="732.8" y1="1037.3" x2="732.8" y2="1040.3" stroke="#d0d0d0" stroke-width="1"/>
<polyline points="461.3,1011.8 471.2,1011.8 472.8,1017.7 474.2,1011.8 480.4,1011.8 481.9,1017.7 483.9,1017.7 485.2,1005.4 487.2,1005.4 488.2,1011.8 489.7,1011.8 491.1,1005.4 492.4,1024.5 493.8,1012.6 495.4,1017.7 497.5,1011.8 499.6,1018.8 501.4,1024.5 503.1,1012.6 504.5,1017.7 506.6,1011.8 509.2,1011.8 510.7,1017.7 512.3,1011.8 516.0,1011.8 518.1,992.0 520.6,997.2 522.2,992.0 523.8,973.5 525.7,973.5 528.4,985.8 531.3,985.8 532.9,979.7 535.0,985.8 537.0,992.0 538.7,985.8 540.1,979.7 542.2,985.8 543.6,992.0 544.8,1005.4 546.3,1006.4 547.7,1017.7 550.4,1017.7 551.8,1006.4 553.5,992.0 555.1,998.2 557.6,998.2 559.7,992.0 561.7,985.8 563.4,998.2 564.8,992.0 566.9,992.0 568.3,985.8 573.0,985.8 574.1,999.2 577.8,999.2 579.8,992.0 581.9,999.2 584.4,973.5 586.4,979.7 588.5,979.7 590.0,979.7 591.0,992.0 593.1,993.1 594.1,1005.4 595.8,1005.4 597.2,993.1 599.3,992.0 600.3,985.8 602.3,979.7 604.0,979.7 606.1,992.0 608.1,998.2 610.6,998.2 612.6,1004.4 614.7,1005.4 615.7,1017.7 617.8,1024.5 619.8,1016.7 620.9,1011.8 627.0,1011.8 628.7,1005.4 630.8,1005.4 632.2,1011.8 634.2,1008.5 635.7,1005.4 637.3,1005.4 639.0,1011.8 640.4,1011.8 641.9,1005.4 643.5,1011.8 645.2,1005.4 647.2,1005.4 649.3,998.2 652.8,998.2 654.8,990.0 656.3,992.0 658.3,967.3 661.0,922.0 662.4,922.0 663.7,915.9 665.1,928.2 666.6,922.0 668.2,922.0 670.9,952.9 672.7,953.9 674.4,947.8 676.4,946.7 677.5,941.6 678.9,947.8 681.6,947.8 683.0,953.9 684.7,947.8 687.8,960.1 689.8,960.1 691.9,953.9 693.9,947.8 698.1,947.8 701.1,941.6 702.8,947.8 704.2,947.8 705.3,941.6 706.7,947.8 708.3,941.6 710.4,941.6 713.5,946.7 716.0,947.8 718.0,953.9 720.1,953.9 722.1,947.8 725.8,947.8 726.9,945.3 728.3,947.8 729.5,944.3 732.0,982.8 734.1,980.7 735.1,979.7" fill="none" stroke="#2b4563" stroke-width="2.2" stroke-linejoin="round"/>
<text x="451.8" y="912.5" font-size="7.80" fill="#6a6a6a" font-family="'Liberation Serif','Noto Serif CJK SC',serif" text-anchor="end" font-weight="normal">10</text>
<text x="451.8" y="925.3" font-size="7.80" fill="#6a6a6a" font-family="'Liberation Serif','Noto Serif CJK SC',serif" text-anchor="end" font-weight="normal">9</text>
<text x="451.8" y="938.0" font-size="7.80" fill="#6a6a6a" font-family="'Liberation Serif','Noto Serif CJK SC',serif" text-anchor="end" font-weight="normal">8</text>
<text x="451.8" y="950.8" font-size="7.80" fill="#6a6a6a" font-family="'Liberation Serif','Noto Serif CJK SC',serif" text-anchor="end" font-weight="normal">7</text>
<text x="451.8" y="963.5" font-size="7.80" fill="#6a6a6a" font-family="'Liberation Serif','Noto Serif CJK SC',serif" text-anchor="end" font-weight="normal">6</text>
<text x="451.8" y="976.3" font-size="7.80" fill="#6a6a6a" font-family="'Liberation Serif','Noto Serif CJK SC',serif" text-anchor="end" font-weight="normal">5</text>
<text x="451.8" y="989.1" font-size="7.80" fill="#6a6a6a" font-family="'Liberation Serif','Noto Serif CJK SC',serif" text-anchor="end" font-weight="normal">4</text>
<text x="451.8" y="1001.8" font-size="7.80" fill="#6a6a6a" font-family="'Liberation Serif','Noto Serif CJK SC',serif" text-anchor="end" font-weight="normal">3</text>
<text x="451.8" y="1014.6" font-size="7.80" fill="#6a6a6a" font-family="'Liberation Serif','Noto Serif CJK SC',serif" text-anchor="end" font-weight="normal">2</text>
<text x="451.8" y="1027.3" font-size="7.80" fill="#6a6a6a" font-family="'Liberation Serif','Noto Serif CJK SC',serif" text-anchor="end" font-weight="normal">1</text>
<text x="451.8" y="1040.1" font-size="7.80" fill="#6a6a6a" font-family="'Liberation Serif','Noto Serif CJK SC',serif" text-anchor="end" font-weight="normal">0</text>
<text x="438.6" y="902.5" font-size="7.80" fill="#6a6a6a" font-family="'Noto Serif CJK SC','Liberation Serif',serif" text-anchor="start" font-weight="normal">天</text>
<line x1="569.5" y1="894.7" x2="584.4" y2="894.7" stroke="#2b4563" stroke-width="2"/>
<text x="585.0" y="897.5" font-size="7.80" fill="#6a6a6a" font-family="'Noto Serif CJK SC','Liberation Serif',serif" text-anchor="start" font-weight="normal" textLength="29.0" lengthAdjust="spacingAndGlyphs">库存天数</text>
<text transform="translate(463.8,1046.3) rotate(-45)" font-size="7.60" fill="#6a6a6a" font-family="'Liberation Serif','Noto Serif CJK SC',serif" text-anchor="end" textLength="30.0" lengthAdjust="spacingAndGlyphs">17/07/14</text>
<text transform="translate(476.7,1046.3) rotate(-45)" font-size="7.60" fill="#6a6a6a" font-family="'Liberation Serif','Noto Serif CJK SC',serif" text-anchor="end" textLength="30.0" lengthAdjust="spacingAndGlyphs">17/09/14</text>
<text transform="translate(489.7,1046.3) rotate(-45)" font-size="7.60" fill="#6a6a6a" font-family="'Liberation Serif','Noto Serif CJK SC',serif" text-anchor="end" textLength="30.0" lengthAdjust="spacingAndGlyphs">17/11/14</text>
<text transform="translate(502.6,1046.3) rotate(-45)" font-size="7.60" fill="#6a6a6a" font-family="'Liberation Serif','Noto Serif CJK SC',serif" text-anchor="end" textLength="30.0" lengthAdjust="spacingAndGlyphs">18/01/14</text>
<text transform="translate(515.5,1046.3) rotate(-45)" font-size="7.60" fill="#6a6a6a" font-family="'Liberation Serif','Noto Serif CJK SC',serif" text-anchor="end" textLength="30.0" lengthAdjust="spacingAndGlyphs">18/03/14</text>
<text transform="translate(528.5,1046.3) rotate(-45)" font-size="7.60" fill="#6a6a6a" font-family="'Liberation Serif','Noto Serif CJK SC',serif" text-anchor="end" textLength="30.0" lengthAdjust="spacingAndGlyphs">18/05/14</text>
<text transform="translate(541.4,1046.3) rotate(-45)" font-size="7.60" fill="#6a6a6a" font-family="'Liberation Serif','Noto Serif CJK SC',serif" text-anchor="end" textLength="30.0" lengthAdjust="spacingAndGlyphs">18/07/14</text>
<text transform="translate(554.3,1046.3) rotate(-45)" font-size="7.60" fill="#6a6a6a" font-family="'Liberation Serif','Noto Serif CJK SC',serif" text-anchor="end" textLength="30.0" lengthAdjust="spacingAndGlyphs">18/09/14</text>
<text transform="translate(567.2,1046.3) rotate(-45)" font-size="7.60" fill="#6a6a6a" font-family="'Liberation Serif','Noto Serif CJK SC',serif" text-anchor="end" textLength="30.0" lengthAdjust="spacingAndGlyphs">18/11/14</text>
<text transform="translate(580.2,1046.3) rotate(-45)" font-size="7.60" fill="#6a6a6a" font-family="'Liberation Serif','Noto Serif CJK SC',serif" text-anchor="end" textLength="30.0" lengthAdjust="spacingAndGlyphs">19/01/14</text>
<text transform="translate(593.1,1046.3) rotate(-45)" font-size="7.60" fill="#6a6a6a" font-family="'Liberation Serif','Noto Serif CJK SC',serif" text-anchor="end" textLength="30.0" lengthAdjust="spacingAndGlyphs">19/03/14</text>
<text transform="translate(606.0,1046.3) rotate(-45)" font-size="7.60" fill="#6a6a6a" font-family="'Liberation Serif','Noto Serif CJK SC',serif" text-anchor="end" textLength="30.0" lengthAdjust="spacingAndGlyphs">19/05/14</text>
<text transform="translate(619.0,1046.3) rotate(-45)" font-size="7.60" fill="#6a6a6a" font-family="'Liberation Serif','Noto Serif CJK SC',serif" text-anchor="end" textLength="30.0" lengthAdjust="spacingAndGlyphs">19/07/14</text>
<text transform="translate(631.9,1046.3) rotate(-45)" font-size="7.60" fill="#6a6a6a" font-family="'Liberation Serif','Noto Serif CJK SC',serif" text-anchor="end" textLength="30.0" lengthAdjust="spacingAndGlyphs">19/09/14</text>
<text transform="translate(644.8,1046.3) rotate(-45)" font-size="7.60" fill="#6a6a6a" font-family="'Liberation Serif','Noto Serif CJK SC',serif" text-anchor="end" textLength="30.0" lengthAdjust="spacingAndGlyphs">19/11/14</text>
<text transform="translate(657.8,1046.3) rotate(-45)" font-size="7.60" fill="#6a6a6a" font-family="'Liberation Serif','Noto Serif CJK SC',serif" text-anchor="end" textLength="30.0" lengthAdjust="spacingAndGlyphs">20/01/14</text>
<text transform="translate(670.7,1046.3) rotate(-45)" font-size="7.60" fill="#6a6a6a" font-family="'Liberation Serif','Noto Serif CJK SC',serif" text-anchor="end" textLength="30.0" lengthAdjust="spacingAndGlyphs">20/03/14</text>
<text transform="translate(683.6,1046.3) rotate(-45)" font-size="7.60" fill="#6a6a6a" font-family="'Liberation Serif','Noto Serif CJK SC',serif" text-anchor="end" textLength="30.0" lengthAdjust="spacingAndGlyphs">20/05/14</text>
<text transform="translate(696.5,1046.3) rotate(-45)" font-size="7.60" fill="#6a6a6a" font-family="'Liberation Serif','Noto Serif CJK SC',serif" text-anchor="end" textLength="30.0" lengthAdjust="spacingAndGlyphs">20/07/14</text>
<text transform="translate(709.5,1046.3) rotate(-45)" font-size="7.60" fill="#6a6a6a" font-family="'Liberation Serif','Noto Serif CJK SC',serif" text-anchor="end" textLength="30.0" lengthAdjust="spacingAndGlyphs">20/09/14</text>
<text transform="translate(722.4,1046.3) rotate(-45)" font-size="7.60" fill="#6a6a6a" font-family="'Liberation Serif','Noto Serif CJK SC',serif" text-anchor="end" textLength="30.0" lengthAdjust="spacingAndGlyphs">20/11/14</text>
<text transform="translate(735.3,1046.3) rotate(-45)" font-size="7.60" fill="#6a6a6a" font-family="'Liberation Serif','Noto Serif CJK SC',serif" text-anchor="end" textLength="30.0" lengthAdjust="spacingAndGlyphs">21/01/14</text>
</svg>
</body></html>
